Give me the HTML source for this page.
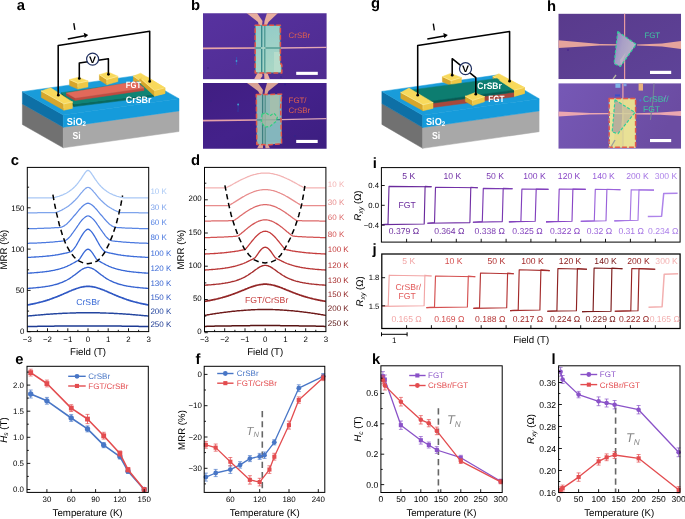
<!DOCTYPE html>
<html><head><meta charset="utf-8"><title>Figure</title>
<style>html,body{margin:0;padding:0;background:#fff}svg{display:block;will-change:transform}text{font-family:"Liberation Sans", sans-serif;text-rendering:geometricPrecision}</style>
</head><body>
<svg width="685" height="519" viewBox="0 0 685 519">
<rect width="685" height="519" fill="#fff"/>
<text x="16.7" y="9.8" font-size="14.80" fill="#000" text-anchor="start" font-weight="bold" font-style="normal" >a</text>
<polygon points="22.4,103.9 63.3,127.2 63.3,147.8 22.4,124.5" fill="#717171" stroke="#717171" stroke-width="0.5" stroke-linejoin="round"/>
<polygon points="63.3,127.2 179.0,110.9 179.0,131.5 63.3,147.8" fill="#a8a8a8" stroke="#a8a8a8" stroke-width="0.5" stroke-linejoin="round"/>
<polygon points="22.4,91.7 63.3,115.0 63.3,127.2 22.4,103.9" fill="#0e70a6" stroke="#0e70a6" stroke-width="0.5" stroke-linejoin="round"/>
<polygon points="63.3,115.0 179.0,98.7 179.0,110.9 63.3,127.2" fill="#159bdb" stroke="#159bdb" stroke-width="0.5" stroke-linejoin="round"/>
<polygon points="22.4,91.7 138.1,75.4 179.0,98.7 63.3,115.0" fill="#199cda" stroke="#199cda" stroke-width="0.5" stroke-linejoin="round"/>
<polygon points="133.4,76.1 154.4,90.5 154.4,96.1 133.4,81.7" fill="#d6a62c" stroke="#d6a62c" stroke-width="0.5" stroke-linejoin="round"/>
<polygon points="154.4,90.5 164.9,87.8 164.9,93.4 154.4,96.1" fill="#efc846" stroke="#efc846" stroke-width="0.5" stroke-linejoin="round"/>
<polygon points="133.4,76.1 140.6,73.2 164.9,87.8 154.4,90.5" fill="#f8d95c" stroke="#f8d95c" stroke-width="0.5" stroke-linejoin="round"/>
<path d="M133.4 76.1 L154.4 90.5 L164.9 87.8" fill="none" stroke="#fdeb96" stroke-width="0.80" stroke-linejoin="round" stroke-linecap="round" opacity="0.9"/>
<line x1="154.4" y1="90.5" x2="154.4" y2="94.4" stroke="#fdeb96" stroke-width="0.60" opacity="0.7"/>
<polygon points="69.5,79.6 77.8,83.2 77.8,89.1 69.5,85.5" fill="#d6a62c" stroke="#d6a62c" stroke-width="0.5" stroke-linejoin="round"/>
<polygon points="77.8,83.2 88.0,81.0 88.0,86.9 77.8,89.1" fill="#efc846" stroke="#efc846" stroke-width="0.5" stroke-linejoin="round"/>
<polygon points="69.5,79.6 78.5,77.2 88.0,81.0 77.8,83.2" fill="#f8d95c" stroke="#f8d95c" stroke-width="0.5" stroke-linejoin="round"/>
<path d="M69.5 79.6 L77.8 83.2 L88.0 81.0" fill="none" stroke="#fdeb96" stroke-width="0.80" stroke-linejoin="round" stroke-linecap="round" opacity="0.9"/>
<line x1="77.8" y1="83.2" x2="77.8" y2="87.3" stroke="#fdeb96" stroke-width="0.60" opacity="0.7"/>
<polygon points="99.4,74.7 106.8,79.4 106.8,84.7 99.4,80.0" fill="#d6a62c" stroke="#d6a62c" stroke-width="0.5" stroke-linejoin="round"/>
<polygon points="106.8,79.4 117.9,76.3 117.9,81.6 106.8,84.7" fill="#efc846" stroke="#efc846" stroke-width="0.5" stroke-linejoin="round"/>
<polygon points="99.4,74.7 108.2,72.0 117.9,76.3 106.8,79.4" fill="#f8d95c" stroke="#f8d95c" stroke-width="0.5" stroke-linejoin="round"/>
<path d="M99.4 74.7 L106.8 79.4 L117.9 76.3" fill="none" stroke="#fdeb96" stroke-width="0.80" stroke-linejoin="round" stroke-linecap="round" opacity="0.9"/>
<line x1="106.8" y1="79.4" x2="106.8" y2="83.1" stroke="#fdeb96" stroke-width="0.60" opacity="0.7"/>
<polygon points="61.5,92.7 74.0,103.9 74.0,106.6 61.5,95.2" fill="#0a5a50" stroke="#0a5a50" stroke-width="0.5" stroke-linejoin="round"/>
<polygon points="74.0,103.9 154.0,94.2 154.0,96.6 74.0,106.6" fill="#0b695e" stroke="#0b695e" stroke-width="0.5" stroke-linejoin="round"/>
<polygon points="61.5,92.7 139.0,81.6 154.0,94.2 74.0,103.9" fill="#108474" stroke="#108474" stroke-width="0.5" stroke-linejoin="round"/>
<polygon points="66.4,93.0 75.1,97.9 75.1,100.5 66.4,95.6" fill="#b4443a" stroke="#b4443a" stroke-width="0.5" stroke-linejoin="round"/>
<polygon points="75.1,97.9 144.0,88.0 144.0,90.4 75.1,100.5" fill="#c14b40" stroke="#c14b40" stroke-width="0.5" stroke-linejoin="round"/>
<polygon points="66.4,93.0 136.0,81.6 144.0,88.0 75.1,97.9" fill="#e1695a" stroke="#e1695a" stroke-width="0.5" stroke-linejoin="round"/>
<polygon points="139.4,79.4 141.6,78.2 154.4,90.5 154.4,96.0 139.4,82.2" fill="#d6a62c" stroke="#d6a62c" stroke-width="0.5" stroke-linejoin="round"/>
<polygon points="140.4,78.8 147.0,77.0 164.9,87.8 154.4,90.5" fill="#f8d95c" stroke="#f8d95c" stroke-width="0.5" stroke-linejoin="round"/>
<polygon points="154.4,90.5 164.9,87.8 164.9,93.5 154.4,96.0" fill="#efc846" stroke="#efc846" stroke-width="0.5" stroke-linejoin="round"/>
<path d="M142.0 79.6 L154.4 90.5 L164.9 87.8" fill="none" stroke="#fdeb96" stroke-width="0.80" stroke-linejoin="round" opacity="0.9"/>
<polygon points="41.3,91.0 63.8,103.8 63.8,110.2 41.3,97.4" fill="#d6a62c" stroke="#d6a62c" stroke-width="0.5" stroke-linejoin="round"/>
<polygon points="63.8,103.8 72.4,102.0 72.4,108.4 63.8,110.2" fill="#efc846" stroke="#efc846" stroke-width="0.5" stroke-linejoin="round"/>
<polygon points="41.3,91.0 50.7,87.8 72.4,102.0 63.8,103.8" fill="#f8d95c" stroke="#f8d95c" stroke-width="0.5" stroke-linejoin="round"/>
<path d="M41.3 91.0 L63.8 103.8 L72.4 102.0" fill="none" stroke="#fdeb96" stroke-width="0.80" stroke-linejoin="round" stroke-linecap="round" opacity="0.9"/>
<line x1="63.8" y1="103.8" x2="63.8" y2="108.3" stroke="#fdeb96" stroke-width="0.60" opacity="0.7"/>
<path d="M58.2 95.0 L58.2 45.6 L149.7 31.2 L149.7 81.4" fill="none" stroke="#000" stroke-width="1.55" stroke-linejoin="round" stroke-linejoin="miter"/>
<circle cx="58.3" cy="95.2" r="1.35"/><circle cx="149.7" cy="81.4" r="1.35"/>
<path d="M79.3 78.4 L79.3 63.0 L108.4 58.8 L108.4 74.2" fill="none" stroke="#000" stroke-width="1.55" stroke-linejoin="round" stroke-linejoin="miter"/>
<circle cx="79.3" cy="78.5" r="1.35"/><circle cx="108.4" cy="74.3" r="1.35"/>
<circle cx="92.6" cy="59.1" r="6.0" fill="#fff" stroke="#1f2f60" stroke-width="1.2"/>
<text x="89.1" y="62.5" font-size="9.40" fill="#000" text-anchor="start" font-weight="bold" font-style="normal" textLength="7" lengthAdjust="spacingAndGlyphs">V</text>
<line x1="67.8" y1="38.9" x2="84.6" y2="35.8" stroke="#000" stroke-width="1.50" />
<polygon points="88.2,35.0 83.7,32.8 84.7,38.1" fill="#000" />
<text x="0.0" y="0.0" font-size="9.80" fill="#000" text-anchor="middle" font-weight="bold" font-style="normal" transform="translate(74.8,29.9) rotate(-9)">I</text>
<text x="125.8" y="88.2" font-size="9.20" fill="#fff" text-anchor="start" font-weight="bold" font-style="normal" textLength="15.4" lengthAdjust="spacingAndGlyphs">FGT</text>
<text x="125.8" y="102.8" font-size="9.40" fill="#fff" text-anchor="start" font-weight="bold" font-style="normal" textLength="25.6" lengthAdjust="spacingAndGlyphs">CrSBr</text>
<text x="66.8" y="125.0" font-size="10.20" fill="#fff" text-anchor="start" font-weight="bold" font-style="normal" textLength="19.2" lengthAdjust="spacingAndGlyphs">SiO<tspan font-size="6.8" dy="1.2">2</tspan></text>
<text x="72.6" y="139.4" font-size="10.20" fill="#fff" text-anchor="start" font-weight="bold" font-style="normal" textLength="8.2" lengthAdjust="spacingAndGlyphs">Si</text>
<text x="371.1" y="8.0" font-size="14.80" fill="#000" text-anchor="start" font-weight="bold" font-style="normal" >g</text>
<polygon points="381.9,103.6 422.7,127.5 422.7,148.3 381.9,124.4" fill="#717171" stroke="#717171" stroke-width="0.5" stroke-linejoin="round"/>
<polygon points="422.7,127.5 539.1,110.9 539.1,131.7 422.7,148.3" fill="#a8a8a8" stroke="#a8a8a8" stroke-width="0.5" stroke-linejoin="round"/>
<polygon points="381.9,91.4 422.7,115.3 422.7,127.5 381.9,103.6" fill="#0e70a6" stroke="#0e70a6" stroke-width="0.5" stroke-linejoin="round"/>
<polygon points="422.7,115.3 539.1,98.7 539.1,110.9 422.7,127.5" fill="#159bdb" stroke="#159bdb" stroke-width="0.5" stroke-linejoin="round"/>
<polygon points="381.9,91.4 498.3,74.8 539.1,98.7 422.7,115.3" fill="#199cda" stroke="#199cda" stroke-width="0.5" stroke-linejoin="round"/>
<polygon points="442.4,76.6 451.1,80.6 451.1,85.8 442.4,81.8" fill="#d6a62c" stroke="#d6a62c" stroke-width="0.5" stroke-linejoin="round"/>
<polygon points="451.1,80.6 461.4,77.5 461.4,82.7 451.1,85.8" fill="#efc846" stroke="#efc846" stroke-width="0.5" stroke-linejoin="round"/>
<polygon points="442.4,76.6 450.6,73.4 461.4,77.5 451.1,80.6" fill="#f8d95c" stroke="#f8d95c" stroke-width="0.5" stroke-linejoin="round"/>
<path d="M442.4 76.6 L451.1 80.6 L461.4 77.5" fill="none" stroke="#fdeb96" stroke-width="0.80" stroke-linejoin="round" stroke-linecap="round" opacity="0.9"/>
<line x1="451.1" y1="80.6" x2="451.1" y2="84.2" stroke="#fdeb96" stroke-width="0.60" opacity="0.7"/>
<polygon points="492.9,76.4 514.5,90.3 514.5,96.3 492.9,82.4" fill="#d6a62c" stroke="#d6a62c" stroke-width="0.5" stroke-linejoin="round"/>
<polygon points="514.5,90.3 524.4,87.5 524.4,93.5 514.5,96.3" fill="#efc846" stroke="#efc846" stroke-width="0.5" stroke-linejoin="round"/>
<polygon points="492.9,76.4 498.9,73.8 524.4,87.5 514.5,90.3" fill="#f8d95c" stroke="#f8d95c" stroke-width="0.5" stroke-linejoin="round"/>
<path d="M492.9 76.4 L514.5 90.3 L524.4 87.5" fill="none" stroke="#fdeb96" stroke-width="0.80" stroke-linejoin="round" stroke-linecap="round" opacity="0.9"/>
<line x1="514.5" y1="90.3" x2="514.5" y2="94.5" stroke="#fdeb96" stroke-width="0.60" opacity="0.7"/>
<polygon points="429.0,103.4 514.0,92.2 514.0,96.8 429.0,108.0" fill="#a8483c" stroke="#a8483c" stroke-width="0.5" stroke-linejoin="round"/>
<polygon points="408.0,90.4 497.0,78.4 514.0,90.2 429.5,101.6" fill="#0d7d70" stroke="#0d7d70" stroke-width="0.5" stroke-linejoin="round"/>
<polygon points="429.5,101.6 514.0,90.2 514.0,92.2 429.5,103.6" fill="#0a5c52" stroke="#0a5c52" stroke-width="0.5" stroke-linejoin="round"/>
<polygon points="499.5,80.5 505.6,78.0 524.4,87.5 514.2,90.1" fill="#f8d95c" stroke="#f8d95c" stroke-width="0.5" stroke-linejoin="round"/>
<polygon points="514.5,90.3 524.4,87.5 524.4,93.3 514.5,96.3" fill="#efc846" stroke="#efc846" stroke-width="0.5" stroke-linejoin="round"/>
<path d="M514.2 90.1 L524.4 87.5" fill="none" stroke="#fdeb96" stroke-width="0.80" stroke-linejoin="round" opacity="0.9"/>
<polygon points="400.8,92.4 423.0,104.7 423.0,110.7 400.8,98.4" fill="#d6a62c" stroke="#d6a62c" stroke-width="0.5" stroke-linejoin="round"/>
<polygon points="423.0,104.7 433.0,102.4 433.0,108.4 423.0,110.7" fill="#efc846" stroke="#efc846" stroke-width="0.5" stroke-linejoin="round"/>
<polygon points="400.8,92.4 409.0,88.1 433.0,102.4 423.0,104.7" fill="#f8d95c" stroke="#f8d95c" stroke-width="0.5" stroke-linejoin="round"/>
<path d="M400.8 92.4 L423.0 104.7 L433.0 102.4" fill="none" stroke="#fdeb96" stroke-width="0.80" stroke-linejoin="round" stroke-linecap="round" opacity="0.9"/>
<line x1="423.0" y1="104.7" x2="423.0" y2="108.9" stroke="#fdeb96" stroke-width="0.60" opacity="0.7"/>
<polygon points="465.4,96.2 472.6,100.3 472.6,105.5 465.4,101.4" fill="#d6a62c" stroke="#d6a62c" stroke-width="0.5" stroke-linejoin="round"/>
<polygon points="472.6,100.3 484.4,96.6 484.4,101.8 472.6,105.5" fill="#efc846" stroke="#efc846" stroke-width="0.5" stroke-linejoin="round"/>
<polygon points="465.4,96.2 474.6,92.8 484.4,96.6 472.6,100.3" fill="#f8d95c" stroke="#f8d95c" stroke-width="0.5" stroke-linejoin="round"/>
<path d="M465.4 96.2 L472.6 100.3 L484.4 96.6" fill="none" stroke="#fdeb96" stroke-width="0.80" stroke-linejoin="round" stroke-linecap="round" opacity="0.9"/>
<line x1="472.6" y1="100.3" x2="472.6" y2="103.9" stroke="#fdeb96" stroke-width="0.60" opacity="0.7"/>
<path d="M417.7 95.0 L417.7 45.5 L509.6 31.5 L509.6 81.0" fill="none" stroke="#000" stroke-width="1.55" stroke-linejoin="round" stroke-linejoin="miter"/>
<circle cx="417.7" cy="95.2" r="1.35"/><circle cx="509.6" cy="81.2" r="1.35"/>
<path d="M452.2 75.0 L452.2 58.7 L475.8 77.6 L475.8 94.0" fill="none" stroke="#000" stroke-width="1.55" stroke-linejoin="round" stroke-linejoin="miter"/>
<circle cx="452.2" cy="75.2" r="1.35"/><circle cx="475.8" cy="94.2" r="1.35"/>
<circle cx="465.5" cy="68.7" r="6.0" fill="#fff" stroke="#1f2f60" stroke-width="1.2"/>
<text x="462.0" y="72.1" font-size="9.40" fill="#000" text-anchor="start" font-weight="bold" font-style="normal" textLength="7" lengthAdjust="spacingAndGlyphs">V</text>
<line x1="427.3" y1="39.1" x2="444.2" y2="35.9" stroke="#000" stroke-width="1.50" />
<polygon points="447.8,35.1 443.3,32.9 444.3,38.2" fill="#000" />
<text x="0.0" y="0.0" font-size="9.80" fill="#000" text-anchor="middle" font-weight="bold" font-style="normal" transform="translate(434.3,30.3) rotate(-9)">I</text>
<text x="477.3" y="88.6" font-size="9.40" fill="#fff" text-anchor="start" font-weight="bold" font-style="normal" textLength="24.4" lengthAdjust="spacingAndGlyphs">CrSBr</text>
<text x="488.2" y="102.2" font-size="9.20" fill="#fff" text-anchor="start" font-weight="bold" font-style="normal" textLength="16.2" lengthAdjust="spacingAndGlyphs">FGT</text>
<text x="426.0" y="125.0" font-size="10.20" fill="#fff" text-anchor="start" font-weight="bold" font-style="normal" textLength="19.2" lengthAdjust="spacingAndGlyphs">SiO<tspan font-size="6.8" dy="1.2">2</tspan></text>
<text x="432.0" y="139.4" font-size="10.20" fill="#fff" text-anchor="start" font-weight="bold" font-style="normal" textLength="8.2" lengthAdjust="spacingAndGlyphs">Si</text>
<defs>
<filter id="bl1" x="-20%" y="-20%" width="140%" height="140%"><feGaussianBlur stdDeviation="0.45"/></filter>
<filter id="bl2" x="-20%" y="-20%" width="140%" height="140%"><feGaussianBlur stdDeviation="0.8"/></filter>
<linearGradient id="gb1" x1="0" y1="0" x2="1" y2="1"><stop offset="0" stop-color="#57329f"/><stop offset="1" stop-color="#4e2b90"/></linearGradient>
<linearGradient id="gb2" x1="0" y1="0" x2="1" y2="1"><stop offset="0" stop-color="#411e82"/><stop offset="0.5" stop-color="#43218a"/><stop offset="1" stop-color="#3c1e80"/></linearGradient>
<linearGradient id="gh1" x1="0" y1="0" x2="1" y2="1"><stop offset="0" stop-color="#593a8c"/><stop offset="1" stop-color="#5e4398"/></linearGradient>
<linearGradient id="gh2" x1="0" y1="0" x2="1" y2="0.3"><stop offset="0" stop-color="#7658b6"/><stop offset="1" stop-color="#6b4ca2"/></linearGradient>
<clipPath id="cb1"><rect x="203.0" y="13.3" width="123.6" height="65.9"/></clipPath>
<clipPath id="cb2"><rect x="203.0" y="83" width="123.6" height="65.7"/></clipPath>
<clipPath id="ch1"><rect x="558.3" y="13.6" width="122.8" height="65.6"/></clipPath>
<clipPath id="ch2"><rect x="558.3" y="83.2" width="122.8" height="65.6"/></clipPath>
</defs>
<text x="191.0" y="10.4" font-size="14.80" fill="#000" text-anchor="start" font-weight="bold" font-style="normal" >b</text>
<g clip-path="url(#cb1)">
<rect x="202.8" y="13.0" width="124.4" height="66.6" fill="url(#gb1)" stroke="none" stroke-width="1.00" />
<g filter="url(#bl1)">
<line x1="202.8" y1="48.4" x2="256.0" y2="48.0" stroke="#e8a6a6" stroke-width="1.60" />
<line x1="280.0" y1="48.0" x2="326.8" y2="47.4" stroke="#e4a8b4" stroke-width="1.40" />
<polygon points="246.5,13.0 257.0,13.0 262.5,21.0 262.0,26.0 259.0,26.0 258.0,22.0" fill="#e7ad9e" />
<polygon points="267.0,13.0 278.0,13.0 268.5,22.0 266.5,26.0 264.0,26.0 264.5,21.0" fill="#e7ad9e" />
<polygon points="258.0,72.0 262.0,72.0 262.5,76.0 260.0,79.5 254.0,79.5" fill="#e7ad9e" />
<polygon points="264.0,72.0 267.0,72.0 270.0,79.5 264.5,79.5" fill="#e7ad9e" />
<linearGradient id="gfk" x1="0" y1="0" x2="0.2" y2="1"><stop offset="0" stop-color="#92cbc9"/><stop offset="1" stop-color="#a8d6c5"/></linearGradient>
<polygon points="255.3,25.4 280.2,25.4 280.2,63.0 281.6,65.0 281.6,72.8 255.3,72.8" fill="url(#gfk)" stroke="#3d8c92" stroke-width="0.7"/>
<rect x="274.0" y="52.0" width="6.0" height="20.0" fill="#b6dccb" stroke="none" stroke-width="1.00" />
<line x1="261.7" y1="25.6" x2="261.7" y2="72.6" stroke="#3b8a8c" stroke-width="1.40" />
<line x1="264.8" y1="25.6" x2="264.8" y2="72.6" stroke="#46948e" stroke-width="1.20" />
<line x1="256.0" y1="48.0" x2="280.5" y2="48.0" stroke="#3f8f86" stroke-width="1.20" />
<line x1="261.0" y1="48.0" x2="265.5" y2="48.0" stroke="#d8f0e0" stroke-width="1.20" />
<line x1="236.6" y1="57.0" x2="236.4" y2="65.0" stroke="#3b4db0" stroke-width="1.00" />
<circle cx="236.5" cy="61" r="0.9" fill="#3f9ed0"/>
<circle cx="208" cy="68" r="0.8" fill="#3a2080"/><circle cx="281" cy="77" r="0.9" fill="#3a2a90"/>
</g>
<path d="M255.2 25.2 L280.4 25.2 L280.4 63.0 L281.8 65.0 L281.8 73.0 L255.2 73.0 Z" fill="none" stroke="#e2594a" stroke-width="1.50" stroke-linejoin="round" stroke-dasharray="4.8 2.2"/>
<rect x="296.2" y="71.8" width="21.6" height="3.1" fill="#fff" stroke="none" stroke-width="1.00" />
<text x="288.6" y="37.9" font-size="7.90" fill="#e0604f" text-anchor="start" font-weight="normal" font-style="normal" >CrSBr</text>
</g>
<g clip-path="url(#cb2)">
<rect x="202.8" y="82.8" width="124.4" height="66.4" fill="url(#gb2)" stroke="none" stroke-width="1.00" />
<g filter="url(#bl1)">
<line x1="202.8" y1="120.6" x2="257.0" y2="120.0" stroke="#e3a0a8" stroke-width="1.70" />
<line x1="281.0" y1="119.6" x2="326.8" y2="118.6" stroke="#dca6b8" stroke-width="1.30" />
<polygon points="247.0,83.0 258.0,83.0 263.0,90.0 262.4,94.5 260.0,94.5 258.0,91.0" fill="#d8a296" />
<polygon points="267.0,83.0 278.5,83.0 268.5,91.0 267.0,94.5 264.5,94.5 265.0,90.0" fill="#d8a296" />
<polygon points="259.5,144.0 263.0,144.0 263.0,148.4 257.0,148.4" fill="#d8a296" />
<polygon points="265.0,144.0 268.0,144.0 270.0,148.4 265.5,148.4" fill="#d8a296" />
<polygon points="256.3,94.6 281.6,94.2 281.6,143.6 270.0,144.6 256.8,144.2" fill="#8fb9b8" />
<rect x="270.0" y="95.0" width="9.0" height="24.0" fill="#a3bfae" stroke="none" stroke-width="1.00" />
<rect x="266.5" y="122.0" width="14.0" height="20.0" fill="#84b6bd" stroke="none" stroke-width="1.00" />
<line x1="262.6" y1="94.6" x2="262.6" y2="144.0" stroke="#3c7f80" stroke-width="1.30" />
<line x1="265.2" y1="94.6" x2="265.2" y2="144.0" stroke="#4b8c86" stroke-width="1.10" />
<line x1="257.0" y1="120.0" x2="281.5" y2="119.6" stroke="#3c7f80" stroke-width="1.20" />
<polygon points="262.0,114.0 266.0,112.6 270.0,115.4 274.0,113.4 277.0,117.0 276.0,121.0 270.0,126.4 265.0,127.0 261.0,122.0" fill="#a9bba6" opacity="0.75"/>
<line x1="238.2" y1="103.5" x2="238.0" y2="112.0" stroke="#3438a0" stroke-width="1.00" />
<circle cx="238.1" cy="104.5" r="0.9" fill="#40a0d0"/>
<circle cx="211" cy="101" r="0.8" fill="#352080"/><circle cx="251" cy="125" r="0.8" fill="#30208a"/><circle cx="295" cy="136" r="0.8" fill="#30208a"/><circle cx="285" cy="84.5" r="1" fill="#30208a"/>
</g>
<path d="M256.3 94.6 L281.8 94.2 L280.6 107.0 L281.6 143.8 L270.0 144.8 L256.8 144.4 Z" fill="none" stroke="#e2594a" stroke-width="1.50" stroke-linejoin="round" stroke-dasharray="4.8 2.2"/>
<path d="M262.0 114.4 L265.6 112.6 L270.0 115.8 L274.0 113.2 L277.4 117.0 L276.0 121.4 L270.0 126.4 L265.0 127.2 L261.2 122.0 Z" fill="none" stroke="#2fd07f" stroke-width="1.20" stroke-linejoin="round" stroke-dasharray="3 1.8"/>
<rect x="296.2" y="139.9" width="21.5" height="3.1" fill="#fff" stroke="none" stroke-width="1.00" />
<text x="288.6" y="103.2" font-size="7.90" fill="#e0604f" text-anchor="start" font-weight="normal" font-style="normal" >FGT/</text>
<text x="288.6" y="113.2" font-size="7.90" fill="#e0604f" text-anchor="start" font-weight="normal" font-style="normal" >CrSBr</text>
</g>
<text x="546.9" y="10.6" font-size="14.80" fill="#000" text-anchor="start" font-weight="bold" font-style="normal" >h</text>
<g clip-path="url(#ch1)">
<rect x="558.3" y="13.6" width="122.8" height="65.6" fill="url(#gh1)" stroke="none" stroke-width="1.00" />
<g filter="url(#bl1)">
<polygon points="558.3,40.2 600.0,44.0 618.0,44.2 618.0,45.4 600.0,45.6 558.3,48.0" fill="#e5a39c" />
<polygon points="681.1,41.0 662.0,43.4 637.0,44.4 637.0,45.6 662.0,46.4 681.1,49.0" fill="#e5a39c" />
<line x1="624.6" y1="13.6" x2="624.6" y2="79.2" stroke="#e79aa0" stroke-width="1.20" />
<linearGradient id="gfl" x1="0" y1="0" x2="1" y2="0.4"><stop offset="0" stop-color="#8b7ec6"/><stop offset="0.45" stop-color="#a9a0c6"/><stop offset="1" stop-color="#b9b2c8"/></linearGradient>
<polygon points="617.8,31.5 636.2,44.3 620.5,66.4 614.1,63.7" fill="url(#gfl)" />
<polygon points="620.0,60.0 626.0,52.0 621.0,66.0" fill="#c2bcc6" opacity="0.7"/>
<line x1="616.0" y1="75.0" x2="613.0" y2="79.2" stroke="#b9b8a0" stroke-width="1.30" />
<circle cx="568" cy="50" r="1" fill="#4a2a8c"/>
</g>
<path d="M617.8 31.5 L636.2 44.3 L620.5 66.4 L614.1 63.7 Z" fill="none" stroke="#2fcf98" stroke-width="1.20" stroke-linejoin="round" stroke-dasharray="3 1.8"/>
<rect x="650.0" y="70.8" width="21.2" height="3.2" fill="#fff" stroke="none" stroke-width="1.00" />
<text x="644.4" y="37.9" font-size="7.90" fill="#3ec6a2" text-anchor="start" font-weight="normal" font-style="normal" >FGT</text>
</g>
<g clip-path="url(#ch2)">
<rect x="558.3" y="83.2" width="122.8" height="65.6" fill="url(#gh2)" stroke="none" stroke-width="1.00" />
<g filter="url(#bl1)">
<polygon points="558.3,111.4 590.0,113.0 609.0,113.0 609.0,114.2 590.0,114.4 558.3,116.4" fill="#eba7b0" />
<polygon points="681.1,111.0 660.0,112.6 636.0,113.2 636.0,114.4 660.0,114.8 681.1,116.0" fill="#eba7b0" />
<line x1="622.9" y1="83.2" x2="622.9" y2="98.4" stroke="#eaa0a8" stroke-width="1.30" />
<rect x="615.4" y="83.2" width="5.0" height="4.6" fill="#7fb4e6" stroke="none" stroke-width="1.00" />
<rect x="623.5" y="83.2" width="3.0" height="3.0" fill="#7f9fe0" stroke="none" stroke-width="1.00" />
<rect x="638.6" y="83.2" width="4.4" height="7.4" fill="#e7b27e" stroke="none" stroke-width="1.00" />
<path d="M654.0 83.2 L653.0 100.0 L650.4 120.0" fill="none" stroke="#7d7f98" stroke-width="1.10" stroke-linejoin="round" />
<path d="M666.0 95.0 L664.0 101.0" fill="none" stroke="#8d6fc8" stroke-width="1.00" stroke-linejoin="round" />
<circle cx="640.3" cy="100.4" r="1.1" fill="#4a6ad8"/>
<rect x="615.0" y="94.4" width="5.0" height="2.0" fill="#3a50c8" stroke="none" stroke-width="1.00" />
<rect x="609.2" y="98.4" width="26.4" height="49.3" fill="#e6dc90" stroke="none" stroke-width="1.00" />
<rect x="609.2" y="98.4" width="5.0" height="49.3" fill="#e9e29a" stroke="none" stroke-width="1.00" />
<rect x="624.0" y="120.0" width="11.6" height="27.6" fill="#e9e196" stroke="none" stroke-width="1.00" />
<polygon points="615.0,99.8 635.0,112.4 618.0,133.6 612.2,132.0" fill="#c9c09a" />
<polygon points="615.0,99.8 624.0,105.4 620.0,132.0 612.2,132.0" fill="#b9b09c" />
<line x1="622.9" y1="98.4" x2="622.9" y2="147.4" stroke="#d9cf9c" stroke-width="1.10" />
<line x1="609.2" y1="113.6" x2="635.6" y2="113.6" stroke="#d6cda0" stroke-width="1.10" />
<path d="M615.0 140.0 L611.0 147.0" fill="none" stroke="#9b9f9a" stroke-width="1.40" stroke-linejoin="round" />
</g>
<rect x="609.2" y="98.4" width="26.4" height="48.9" fill="none" stroke="#e2594a" stroke-width="1.50" stroke-dasharray="4.8 2.2"/>
<line x1="609.2" y1="98.4" x2="609.2" y2="148.8" stroke="#7ab0e0" stroke-width="0.80" stroke-dasharray="2 3.6" stroke-dashoffset="-3.6"/>
<path d="M615.0 99.8 L635.0 112.4 L618.0 133.6 L612.2 132.0 Z" fill="none" stroke="#2fcf98" stroke-width="1.20" stroke-linejoin="round" stroke-dasharray="3 1.8"/>
<rect x="650.0" y="139.0" width="21.2" height="3.1" fill="#fff" stroke="none" stroke-width="1.00" />
<text x="643.0" y="101.9" font-size="8.50" fill="#3ec6a2" text-anchor="start" font-weight="normal" font-style="normal" >CrSBr/</text>
<text x="643.0" y="111.5" font-size="8.50" fill="#3ec6a2" text-anchor="start" font-weight="normal" font-style="normal" >FGT</text>
</g>
<text x="10.8" y="165.0" font-size="14.80" fill="#000" text-anchor="start" font-weight="bold" font-style="normal" >c</text>
<clipPath id="cc"><rect x="27.3" y="167.4" width="121.4" height="164.2"/></clipPath>
<g clip-path="url(#cc)">
<path d="M27.3 197.8 L28.1 197.8 L28.9 197.8 L29.7 197.8 L30.5 197.8 L31.4 197.8 L32.2 197.8 L33.0 197.8 L33.8 197.8 L34.6 197.8 L35.4 197.8 L36.2 197.8 L37.0 197.8 L37.8 197.8 L38.6 197.8 L39.4 197.8 L40.3 197.8 L41.1 197.8 L41.9 197.8 L42.7 197.8 L43.5 197.8 L44.3 197.8 L45.1 197.8 L45.9 197.8 L46.7 197.8 L47.5 197.8 L48.3 197.8 L49.2 197.8 L50.0 197.8 L50.8 197.8 L51.6 197.8 L52.4 197.8 L53.2 197.7 L54.0 197.5 L54.8 197.4 L55.6 197.2 L56.4 197.0 L57.3 196.7 L58.1 196.5 L58.9 196.3 L59.7 196.0 L60.5 195.7 L61.3 195.4 L62.1 195.1 L62.9 194.8 L63.7 194.4 L64.5 194.0 L65.3 193.6 L66.2 193.2 L67.0 192.8 L67.8 192.3 L68.6 191.8 L69.4 191.2 L70.2 190.6 L71.0 190.0 L71.8 189.4 L72.6 188.7 L73.4 188.0 L74.2 187.2 L75.1 186.4 L75.9 185.5 L76.7 184.6 L77.5 183.6 L78.3 182.6 L79.1 181.5 L79.9 180.4 L80.7 179.3 L81.5 178.1 L82.3 176.8 L83.1 175.6 L84.0 174.4 L84.8 173.2 L85.6 172.1 L86.4 171.2 L87.2 170.6 L88.0 170.4 L88.8 170.6 L89.6 171.2 L90.4 172.1 L91.2 173.2 L92.0 174.4 L92.9 175.6 L93.7 176.8 L94.5 178.1 L95.3 179.3 L96.1 180.4 L96.9 181.5 L97.7 182.6 L98.5 183.6 L99.3 184.6 L100.1 185.5 L100.9 186.4 L101.8 187.2 L102.6 188.0 L103.4 188.7 L104.2 189.4 L105.0 190.0 L105.8 190.6 L106.6 191.2 L107.4 191.8 L108.2 192.3 L109.0 192.8 L109.8 193.2 L110.7 193.6 L111.5 194.0 L112.3 194.4 L113.1 194.8 L113.9 195.1 L114.7 195.4 L115.5 195.7 L116.3 196.0 L117.1 196.3 L117.9 196.5 L118.7 196.7 L119.6 197.0 L120.4 197.2 L121.2 197.4 L122.0 197.5 L122.8 197.7 L123.6 197.8 L124.4 197.8 L125.2 197.8 L126.0 197.8 L126.8 197.8 L127.7 197.8 L128.5 197.8 L129.3 197.8 L130.1 197.8 L130.9 197.8 L131.7 197.8 L132.5 197.8 L133.3 197.8 L134.1 197.8 L134.9 197.8 L135.7 197.8 L136.6 197.8 L137.4 197.8 L138.2 197.8 L139.0 197.8 L139.8 197.8 L140.6 197.8 L141.4 197.8 L142.2 197.8 L143.0 197.8 L143.8 197.8 L144.6 197.8 L145.5 197.8 L146.3 197.8 L147.1 197.8 L147.9 197.8 L148.7 197.8" fill="none" stroke="#a9c8f5" stroke-width="1.25" stroke-linejoin="round" />
<path d="M27.3 212.8 L28.1 212.8 L28.9 212.8 L29.7 212.8 L30.5 212.8 L31.4 212.8 L32.2 212.8 L33.0 212.8 L33.8 212.8 L34.6 212.8 L35.4 212.8 L36.2 212.8 L37.0 212.8 L37.8 212.7 L38.6 212.7 L39.4 212.7 L40.3 212.7 L41.1 212.7 L41.9 212.7 L42.7 212.7 L43.5 212.7 L44.3 212.7 L45.1 212.7 L45.9 212.7 L46.7 212.7 L47.5 212.7 L48.3 212.7 L49.2 212.7 L50.0 212.7 L50.8 212.7 L51.6 212.6 L52.4 212.6 L53.2 212.6 L54.0 212.6 L54.8 212.6 L55.6 212.6 L56.4 212.3 L57.3 212.0 L58.1 211.7 L58.9 211.4 L59.7 211.0 L60.5 210.6 L61.3 210.3 L62.1 209.9 L62.9 209.4 L63.7 209.0 L64.5 208.5 L65.3 208.0 L66.2 207.5 L67.0 207.0 L67.8 206.5 L68.6 205.9 L69.4 205.3 L70.2 204.6 L71.0 204.0 L71.8 203.3 L72.6 202.5 L73.4 201.8 L74.2 201.0 L75.1 200.2 L75.9 199.3 L76.7 198.5 L77.5 197.6 L78.3 196.6 L79.1 195.7 L79.9 194.7 L80.7 193.7 L81.5 192.7 L82.3 191.8 L83.1 190.8 L84.0 189.9 L84.8 189.1 L85.6 188.4 L86.4 187.9 L87.2 187.5 L88.0 187.4 L88.8 187.5 L89.6 187.9 L90.4 188.4 L91.2 189.1 L92.0 189.9 L92.9 190.8 L93.7 191.8 L94.5 192.7 L95.3 193.7 L96.1 194.7 L96.9 195.7 L97.7 196.6 L98.5 197.6 L99.3 198.5 L100.1 199.3 L100.9 200.2 L101.8 201.0 L102.6 201.8 L103.4 202.5 L104.2 203.3 L105.0 204.0 L105.8 204.6 L106.6 205.3 L107.4 205.9 L108.2 206.5 L109.0 207.0 L109.8 207.5 L110.7 208.0 L111.5 208.5 L112.3 209.0 L113.1 209.4 L113.9 209.9 L114.7 210.3 L115.5 210.6 L116.3 211.0 L117.1 211.4 L117.9 211.7 L118.7 212.0 L119.6 212.3 L120.4 212.6 L121.2 212.6 L122.0 212.6 L122.8 212.6 L123.6 212.6 L124.4 212.6 L125.2 212.7 L126.0 212.7 L126.8 212.7 L127.7 212.7 L128.5 212.7 L129.3 212.7 L130.1 212.7 L130.9 212.7 L131.7 212.7 L132.5 212.7 L133.3 212.7 L134.1 212.7 L134.9 212.7 L135.7 212.7 L136.6 212.7 L137.4 212.7 L138.2 212.7 L139.0 212.8 L139.8 212.8 L140.6 212.8 L141.4 212.8 L142.2 212.8 L143.0 212.8 L143.8 212.8 L144.6 212.8 L145.5 212.8 L146.3 212.8 L147.1 212.8 L147.9 212.8 L148.7 212.8" fill="none" stroke="#7ea4ec" stroke-width="1.25" stroke-linejoin="round" />
<path d="M27.3 228.7 L28.1 228.7 L28.9 228.7 L29.7 228.6 L30.5 228.6 L31.4 228.6 L32.2 228.6 L33.0 228.6 L33.8 228.6 L34.6 228.5 L35.4 228.5 L36.2 228.5 L37.0 228.5 L37.8 228.4 L38.6 228.4 L39.4 228.4 L40.3 228.4 L41.1 228.3 L41.9 228.3 L42.7 228.3 L43.5 228.3 L44.3 228.2 L45.1 228.2 L45.9 228.2 L46.7 228.1 L47.5 228.1 L48.3 228.1 L49.2 228.0 L50.0 228.0 L50.8 228.0 L51.6 227.9 L52.4 227.9 L53.2 227.8 L54.0 227.8 L54.8 227.7 L55.6 227.7 L56.4 227.6 L57.3 227.6 L58.1 227.5 L58.9 227.5 L59.7 227.4 L60.5 227.3 L61.3 227.2 L62.1 226.9 L62.9 226.5 L63.7 226.1 L64.5 225.6 L65.3 225.0 L66.2 224.4 L67.0 223.7 L67.8 222.9 L68.6 222.1 L69.4 221.3 L70.2 220.4 L71.0 219.5 L71.8 218.6 L72.6 217.7 L73.4 216.7 L74.2 215.7 L75.1 214.8 L75.9 213.8 L76.7 212.8 L77.5 211.8 L78.3 210.9 L79.1 209.9 L79.9 209.0 L80.7 208.2 L81.5 207.3 L82.3 206.5 L83.1 205.8 L84.0 205.1 L84.8 204.5 L85.6 204.0 L86.4 203.6 L87.2 203.3 L88.0 203.1 L88.8 203.3 L89.6 203.6 L90.4 204.0 L91.2 204.5 L92.0 205.1 L92.9 205.8 L93.7 206.5 L94.5 207.3 L95.3 208.2 L96.1 209.0 L96.9 209.9 L97.7 210.9 L98.5 211.8 L99.3 212.8 L100.1 213.8 L100.9 214.8 L101.8 215.7 L102.6 216.7 L103.4 217.7 L104.2 218.6 L105.0 219.5 L105.8 220.4 L106.6 221.3 L107.4 222.1 L108.2 222.9 L109.0 223.7 L109.8 224.4 L110.7 225.0 L111.5 225.6 L112.3 226.1 L113.1 226.5 L113.9 226.9 L114.7 227.2 L115.5 227.3 L116.3 227.4 L117.1 227.5 L117.9 227.5 L118.7 227.6 L119.6 227.6 L120.4 227.7 L121.2 227.7 L122.0 227.8 L122.8 227.8 L123.6 227.9 L124.4 227.9 L125.2 228.0 L126.0 228.0 L126.8 228.0 L127.7 228.1 L128.5 228.1 L129.3 228.1 L130.1 228.2 L130.9 228.2 L131.7 228.2 L132.5 228.3 L133.3 228.3 L134.1 228.3 L134.9 228.3 L135.7 228.4 L136.6 228.4 L137.4 228.4 L138.2 228.4 L139.0 228.5 L139.8 228.5 L140.6 228.5 L141.4 228.5 L142.2 228.6 L143.0 228.6 L143.8 228.6 L144.6 228.6 L145.5 228.6 L146.3 228.6 L147.1 228.7 L147.9 228.7 L148.7 228.7" fill="none" stroke="#5a86e4" stroke-width="1.25" stroke-linejoin="round" />
<path d="M27.3 243.3 L28.1 243.3 L28.9 243.3 L29.7 243.2 L30.5 243.2 L31.4 243.2 L32.2 243.1 L33.0 243.1 L33.8 243.1 L34.6 243.1 L35.4 243.0 L36.2 243.0 L37.0 243.0 L37.8 242.9 L38.6 242.9 L39.4 242.8 L40.3 242.8 L41.1 242.8 L41.9 242.7 L42.7 242.7 L43.5 242.6 L44.3 242.6 L45.1 242.5 L45.9 242.5 L46.7 242.4 L47.5 242.4 L48.3 242.3 L49.2 242.3 L50.0 242.2 L50.8 242.2 L51.6 242.1 L52.4 242.0 L53.2 242.0 L54.0 241.9 L54.8 241.8 L55.6 241.7 L56.4 241.7 L57.3 241.6 L58.1 241.5 L58.9 241.4 L59.7 241.3 L60.5 241.3 L61.3 241.2 L62.1 241.1 L62.9 241.0 L63.7 240.9 L64.5 240.7 L65.3 240.4 L66.2 240.0 L67.0 239.4 L67.8 238.8 L68.6 238.0 L69.4 237.2 L70.2 236.3 L71.0 235.3 L71.8 234.2 L72.6 233.2 L73.4 232.0 L74.2 230.9 L75.1 229.7 L75.9 228.5 L76.7 227.3 L77.5 226.1 L78.3 225.0 L79.1 223.8 L79.9 222.7 L80.7 221.7 L81.5 220.7 L82.3 219.7 L83.1 218.9 L84.0 218.1 L84.8 217.4 L85.6 216.8 L86.4 216.4 L87.2 216.0 L88.0 215.9 L88.8 216.0 L89.6 216.4 L90.4 216.8 L91.2 217.4 L92.0 218.1 L92.9 218.9 L93.7 219.7 L94.5 220.7 L95.3 221.7 L96.1 222.7 L96.9 223.8 L97.7 225.0 L98.5 226.1 L99.3 227.3 L100.1 228.5 L100.9 229.7 L101.8 230.9 L102.6 232.0 L103.4 233.2 L104.2 234.2 L105.0 235.3 L105.8 236.3 L106.6 237.2 L107.4 238.0 L108.2 238.8 L109.0 239.4 L109.8 240.0 L110.7 240.4 L111.5 240.7 L112.3 240.9 L113.1 241.0 L113.9 241.1 L114.7 241.2 L115.5 241.3 L116.3 241.3 L117.1 241.4 L117.9 241.5 L118.7 241.6 L119.6 241.7 L120.4 241.7 L121.2 241.8 L122.0 241.9 L122.8 242.0 L123.6 242.0 L124.4 242.1 L125.2 242.2 L126.0 242.2 L126.8 242.3 L127.7 242.3 L128.5 242.4 L129.3 242.4 L130.1 242.5 L130.9 242.5 L131.7 242.6 L132.5 242.6 L133.3 242.7 L134.1 242.7 L134.9 242.8 L135.7 242.8 L136.6 242.8 L137.4 242.9 L138.2 242.9 L139.0 243.0 L139.8 243.0 L140.6 243.0 L141.4 243.1 L142.2 243.1 L143.0 243.1 L143.8 243.1 L144.6 243.2 L145.5 243.2 L146.3 243.2 L147.1 243.3 L147.9 243.3 L148.7 243.3" fill="none" stroke="#4a78df" stroke-width="1.25" stroke-linejoin="round" />
<path d="M27.3 257.4 L28.1 257.4 L28.9 257.3 L29.7 257.3 L30.5 257.3 L31.4 257.2 L32.2 257.2 L33.0 257.1 L33.8 257.1 L34.6 257.0 L35.4 257.0 L36.2 256.9 L37.0 256.9 L37.8 256.8 L38.6 256.8 L39.4 256.7 L40.3 256.7 L41.1 256.6 L41.9 256.6 L42.7 256.5 L43.5 256.4 L44.3 256.4 L45.1 256.3 L45.9 256.2 L46.7 256.1 L47.5 256.0 L48.3 256.0 L49.2 255.9 L50.0 255.8 L50.8 255.7 L51.6 255.6 L52.4 255.5 L53.2 255.4 L54.0 255.3 L54.8 255.2 L55.6 255.0 L56.4 254.9 L57.3 254.8 L58.1 254.6 L58.9 254.5 L59.7 254.4 L60.5 254.2 L61.3 254.0 L62.1 253.9 L62.9 253.7 L63.7 253.5 L64.5 253.4 L65.3 253.2 L66.2 253.0 L67.0 252.8 L67.8 252.6 L68.6 252.4 L69.4 252.2 L70.2 251.9 L71.0 251.6 L71.8 251.1 L72.6 250.3 L73.4 249.4 L74.2 248.4 L75.1 247.2 L75.9 246.0 L76.7 244.6 L77.5 243.2 L78.3 241.8 L79.1 240.4 L79.9 238.9 L80.7 237.5 L81.5 236.1 L82.3 234.8 L83.1 233.6 L84.0 232.4 L84.8 231.4 L85.6 230.6 L86.4 229.9 L87.2 229.4 L88.0 229.2 L88.8 229.4 L89.6 229.9 L90.4 230.6 L91.2 231.4 L92.0 232.4 L92.9 233.6 L93.7 234.8 L94.5 236.1 L95.3 237.5 L96.1 238.9 L96.9 240.4 L97.7 241.8 L98.5 243.2 L99.3 244.6 L100.1 246.0 L100.9 247.2 L101.8 248.4 L102.6 249.4 L103.4 250.3 L104.2 251.1 L105.0 251.6 L105.8 251.9 L106.6 252.2 L107.4 252.4 L108.2 252.6 L109.0 252.8 L109.8 253.0 L110.7 253.2 L111.5 253.4 L112.3 253.5 L113.1 253.7 L113.9 253.9 L114.7 254.0 L115.5 254.2 L116.3 254.4 L117.1 254.5 L117.9 254.6 L118.7 254.8 L119.6 254.9 L120.4 255.0 L121.2 255.2 L122.0 255.3 L122.8 255.4 L123.6 255.5 L124.4 255.6 L125.2 255.7 L126.0 255.8 L126.8 255.9 L127.7 256.0 L128.5 256.0 L129.3 256.1 L130.1 256.2 L130.9 256.3 L131.7 256.4 L132.5 256.4 L133.3 256.5 L134.1 256.6 L134.9 256.6 L135.7 256.7 L136.6 256.7 L137.4 256.8 L138.2 256.8 L139.0 256.9 L139.8 256.9 L140.6 257.0 L141.4 257.0 L142.2 257.1 L143.0 257.1 L143.8 257.2 L144.6 257.2 L145.5 257.3 L146.3 257.3 L147.1 257.3 L147.9 257.4 L148.7 257.4" fill="none" stroke="#3b6bd9" stroke-width="1.30" stroke-linejoin="round" />
<path d="M27.3 273.2 L28.1 273.2 L28.9 273.1 L29.7 273.1 L30.5 273.0 L31.4 273.0 L32.2 272.9 L33.0 272.9 L33.8 272.8 L34.6 272.7 L35.4 272.7 L36.2 272.6 L37.0 272.5 L37.8 272.5 L38.6 272.4 L39.4 272.3 L40.3 272.2 L41.1 272.2 L41.9 272.1 L42.7 272.0 L43.5 271.9 L44.3 271.8 L45.1 271.7 L45.9 271.6 L46.7 271.5 L47.5 271.4 L48.3 271.3 L49.2 271.1 L50.0 271.0 L50.8 270.9 L51.6 270.7 L52.4 270.6 L53.2 270.4 L54.0 270.3 L54.8 270.1 L55.6 269.9 L56.4 269.7 L57.3 269.5 L58.1 269.3 L58.9 269.1 L59.7 268.9 L60.5 268.6 L61.3 268.4 L62.1 268.1 L62.9 267.8 L63.7 267.6 L64.5 267.3 L65.3 266.9 L66.2 266.6 L67.0 266.3 L67.8 265.9 L68.6 265.5 L69.4 265.2 L70.2 264.8 L71.0 264.3 L71.8 263.9 L72.6 263.5 L73.4 263.0 L74.2 262.6 L75.1 262.1 L75.9 261.6 L76.7 261.2 L77.5 260.7 L78.3 260.2 L79.1 259.6 L79.9 258.6 L80.7 257.4 L81.5 256.1 L82.3 254.9 L83.1 253.6 L84.0 252.4 L84.8 251.4 L85.6 250.5 L86.4 249.8 L87.2 249.4 L88.0 249.2 L88.8 249.4 L89.6 249.8 L90.4 250.5 L91.2 251.4 L92.0 252.4 L92.9 253.6 L93.7 254.9 L94.5 256.1 L95.3 257.4 L96.1 258.6 L96.9 259.6 L97.7 260.2 L98.5 260.7 L99.3 261.2 L100.1 261.6 L100.9 262.1 L101.8 262.6 L102.6 263.0 L103.4 263.5 L104.2 263.9 L105.0 264.3 L105.8 264.8 L106.6 265.2 L107.4 265.5 L108.2 265.9 L109.0 266.3 L109.8 266.6 L110.7 266.9 L111.5 267.3 L112.3 267.6 L113.1 267.8 L113.9 268.1 L114.7 268.4 L115.5 268.6 L116.3 268.9 L117.1 269.1 L117.9 269.3 L118.7 269.5 L119.6 269.7 L120.4 269.9 L121.2 270.1 L122.0 270.3 L122.8 270.4 L123.6 270.6 L124.4 270.7 L125.2 270.9 L126.0 271.0 L126.8 271.1 L127.7 271.3 L128.5 271.4 L129.3 271.5 L130.1 271.6 L130.9 271.7 L131.7 271.8 L132.5 271.9 L133.3 272.0 L134.1 272.1 L134.9 272.2 L135.7 272.2 L136.6 272.3 L137.4 272.4 L138.2 272.5 L139.0 272.5 L139.8 272.6 L140.6 272.7 L141.4 272.7 L142.2 272.8 L143.0 272.9 L143.8 272.9 L144.6 273.0 L145.5 273.0 L146.3 273.1 L147.1 273.1 L147.9 273.2 L148.7 273.2" fill="none" stroke="#3767d6" stroke-width="1.30" stroke-linejoin="round" />
<path d="M27.3 288.4 L28.1 288.3 L28.9 288.3 L29.7 288.2 L30.5 288.2 L31.4 288.1 L32.2 288.1 L33.0 288.0 L33.8 287.9 L34.6 287.9 L35.4 287.8 L36.2 287.7 L37.0 287.6 L37.8 287.5 L38.6 287.5 L39.4 287.4 L40.3 287.3 L41.1 287.2 L41.9 287.1 L42.7 287.0 L43.5 286.9 L44.3 286.8 L45.1 286.6 L45.9 286.5 L46.7 286.4 L47.5 286.3 L48.3 286.1 L49.2 286.0 L50.0 285.8 L50.8 285.6 L51.6 285.5 L52.4 285.3 L53.2 285.1 L54.0 284.9 L54.8 284.7 L55.6 284.5 L56.4 284.3 L57.3 284.0 L58.1 283.8 L58.9 283.5 L59.7 283.2 L60.5 282.9 L61.3 282.6 L62.1 282.3 L62.9 282.0 L63.7 281.6 L64.5 281.2 L65.3 280.8 L66.2 280.4 L67.0 280.0 L67.8 279.5 L68.6 279.1 L69.4 278.6 L70.2 278.1 L71.0 277.5 L71.8 277.0 L72.6 276.4 L73.4 275.8 L74.2 275.2 L75.1 274.6 L75.9 274.0 L76.7 273.4 L77.5 272.7 L78.3 272.1 L79.1 271.5 L79.9 270.9 L80.7 270.3 L81.5 269.8 L82.3 269.2 L83.1 268.8 L84.0 268.4 L84.8 268.0 L85.6 267.8 L86.4 267.6 L87.2 267.4 L88.0 267.4 L88.8 267.4 L89.6 267.6 L90.4 267.8 L91.2 268.0 L92.0 268.4 L92.9 268.8 L93.7 269.2 L94.5 269.8 L95.3 270.3 L96.1 270.9 L96.9 271.5 L97.7 272.1 L98.5 272.7 L99.3 273.4 L100.1 274.0 L100.9 274.6 L101.8 275.2 L102.6 275.8 L103.4 276.4 L104.2 277.0 L105.0 277.5 L105.8 278.1 L106.6 278.6 L107.4 279.1 L108.2 279.5 L109.0 280.0 L109.8 280.4 L110.7 280.8 L111.5 281.2 L112.3 281.6 L113.1 282.0 L113.9 282.3 L114.7 282.6 L115.5 282.9 L116.3 283.2 L117.1 283.5 L117.9 283.8 L118.7 284.0 L119.6 284.3 L120.4 284.5 L121.2 284.7 L122.0 284.9 L122.8 285.1 L123.6 285.3 L124.4 285.5 L125.2 285.6 L126.0 285.8 L126.8 286.0 L127.7 286.1 L128.5 286.3 L129.3 286.4 L130.1 286.5 L130.9 286.6 L131.7 286.8 L132.5 286.9 L133.3 287.0 L134.1 287.1 L134.9 287.2 L135.7 287.3 L136.6 287.4 L137.4 287.5 L138.2 287.5 L139.0 287.6 L139.8 287.7 L140.6 287.8 L141.4 287.9 L142.2 287.9 L143.0 288.0 L143.8 288.1 L144.6 288.1 L145.5 288.2 L146.3 288.2 L147.1 288.3 L147.9 288.3 L148.7 288.4" fill="none" stroke="#3562d0" stroke-width="1.35" stroke-linejoin="round" />
<path d="M27.3 305.0 L28.1 304.9 L28.9 304.7 L29.7 304.6 L30.5 304.4 L31.4 304.2 L32.2 304.1 L33.0 303.9 L33.8 303.7 L34.6 303.6 L35.4 303.4 L36.2 303.2 L37.0 303.0 L37.8 302.8 L38.6 302.6 L39.4 302.4 L40.3 302.2 L41.1 302.0 L41.9 301.8 L42.7 301.6 L43.5 301.3 L44.3 301.1 L45.1 300.9 L45.9 300.6 L46.7 300.4 L47.5 300.1 L48.3 299.8 L49.2 299.6 L50.0 299.3 L50.8 299.0 L51.6 298.7 L52.4 298.4 L53.2 298.1 L54.0 297.8 L54.8 297.5 L55.6 297.2 L56.4 296.9 L57.3 296.6 L58.1 296.2 L58.9 295.9 L59.7 295.6 L60.5 295.2 L61.3 294.9 L62.1 294.5 L62.9 294.2 L63.7 293.8 L64.5 293.5 L65.3 293.1 L66.2 292.8 L67.0 292.4 L67.8 292.1 L68.6 291.7 L69.4 291.3 L70.2 291.0 L71.0 290.7 L71.8 290.3 L72.6 290.0 L73.4 289.7 L74.2 289.4 L75.1 289.1 L75.9 288.8 L76.7 288.5 L77.5 288.2 L78.3 288.0 L79.1 287.7 L79.9 287.5 L80.7 287.3 L81.5 287.1 L82.3 287.0 L83.1 286.8 L84.0 286.7 L84.8 286.6 L85.6 286.5 L86.4 286.4 L87.2 286.4 L88.0 286.4 L88.8 286.4 L89.6 286.4 L90.4 286.5 L91.2 286.6 L92.0 286.7 L92.9 286.8 L93.7 287.0 L94.5 287.1 L95.3 287.3 L96.1 287.5 L96.9 287.7 L97.7 288.0 L98.5 288.2 L99.3 288.5 L100.1 288.8 L100.9 289.1 L101.8 289.4 L102.6 289.7 L103.4 290.0 L104.2 290.3 L105.0 290.7 L105.8 291.0 L106.6 291.3 L107.4 291.7 L108.2 292.1 L109.0 292.4 L109.8 292.8 L110.7 293.1 L111.5 293.5 L112.3 293.8 L113.1 294.2 L113.9 294.5 L114.7 294.9 L115.5 295.2 L116.3 295.6 L117.1 295.9 L117.9 296.2 L118.7 296.6 L119.6 296.9 L120.4 297.2 L121.2 297.5 L122.0 297.8 L122.8 298.1 L123.6 298.4 L124.4 298.7 L125.2 299.0 L126.0 299.3 L126.8 299.6 L127.7 299.8 L128.5 300.1 L129.3 300.4 L130.1 300.6 L130.9 300.9 L131.7 301.1 L132.5 301.3 L133.3 301.6 L134.1 301.8 L134.9 302.0 L135.7 302.2 L136.6 302.4 L137.4 302.6 L138.2 302.8 L139.0 303.0 L139.8 303.2 L140.6 303.4 L141.4 303.6 L142.2 303.7 L143.0 303.9 L143.8 304.1 L144.6 304.2 L145.5 304.4 L146.3 304.6 L147.1 304.7 L147.9 304.9 L148.7 305.0" fill="none" stroke="#2f58c4" stroke-width="1.70" stroke-linejoin="round" />
<path d="M27.3 316.1 L28.1 316.0 L28.9 315.9 L29.7 315.8 L30.5 315.8 L31.4 315.7 L32.2 315.6 L33.0 315.5 L33.8 315.4 L34.6 315.4 L35.4 315.3 L36.2 315.2 L37.0 315.1 L37.8 315.1 L38.6 315.0 L39.4 314.9 L40.3 314.9 L41.1 314.8 L41.9 314.7 L42.7 314.7 L43.5 314.6 L44.3 314.5 L45.1 314.5 L45.9 314.4 L46.7 314.3 L47.5 314.3 L48.3 314.2 L49.2 314.2 L50.0 314.1 L50.8 314.0 L51.6 314.0 L52.4 313.9 L53.2 313.9 L54.0 313.8 L54.8 313.8 L55.6 313.7 L56.4 313.7 L57.3 313.6 L58.1 313.6 L58.9 313.5 L59.7 313.5 L60.5 313.5 L61.3 313.4 L62.1 313.4 L62.9 313.3 L63.7 313.3 L64.5 313.3 L65.3 313.2 L66.2 313.2 L67.0 313.2 L67.8 313.1 L68.6 313.1 L69.4 313.1 L70.2 313.0 L71.0 313.0 L71.8 313.0 L72.6 313.0 L73.4 312.9 L74.2 312.9 L75.1 312.9 L75.9 312.9 L76.7 312.8 L77.5 312.8 L78.3 312.8 L79.1 312.8 L79.9 312.8 L80.7 312.8 L81.5 312.7 L82.3 312.7 L83.1 312.7 L84.0 312.7 L84.8 312.7 L85.6 312.7 L86.4 312.7 L87.2 312.7 L88.0 312.7 L88.8 312.7 L89.6 312.7 L90.4 312.7 L91.2 312.7 L92.0 312.7 L92.9 312.7 L93.7 312.7 L94.5 312.7 L95.3 312.8 L96.1 312.8 L96.9 312.8 L97.7 312.8 L98.5 312.8 L99.3 312.8 L100.1 312.9 L100.9 312.9 L101.8 312.9 L102.6 312.9 L103.4 313.0 L104.2 313.0 L105.0 313.0 L105.8 313.0 L106.6 313.1 L107.4 313.1 L108.2 313.1 L109.0 313.2 L109.8 313.2 L110.7 313.2 L111.5 313.3 L112.3 313.3 L113.1 313.3 L113.9 313.4 L114.7 313.4 L115.5 313.5 L116.3 313.5 L117.1 313.5 L117.9 313.6 L118.7 313.6 L119.6 313.7 L120.4 313.7 L121.2 313.8 L122.0 313.8 L122.8 313.9 L123.6 313.9 L124.4 314.0 L125.2 314.0 L126.0 314.1 L126.8 314.2 L127.7 314.2 L128.5 314.3 L129.3 314.3 L130.1 314.4 L130.9 314.5 L131.7 314.5 L132.5 314.6 L133.3 314.7 L134.1 314.7 L134.9 314.8 L135.7 314.9 L136.6 314.9 L137.4 315.0 L138.2 315.1 L139.0 315.1 L139.8 315.2 L140.6 315.3 L141.4 315.4 L142.2 315.4 L143.0 315.5 L143.8 315.6 L144.6 315.7 L145.5 315.8 L146.3 315.8 L147.1 315.9 L147.9 316.0 L148.7 316.1" fill="none" stroke="#23459f" stroke-width="1.45" stroke-linejoin="round" />
<path d="M27.3 326.5 L28.1 326.5 L28.9 326.5 L29.7 326.5 L30.5 326.4 L31.4 326.4 L32.2 326.4 L33.0 326.4 L33.8 326.4 L34.6 326.4 L35.4 326.4 L36.2 326.4 L37.0 326.4 L37.8 326.3 L38.6 326.3 L39.4 326.3 L40.3 326.3 L41.1 326.3 L41.9 326.3 L42.7 326.3 L43.5 326.3 L44.3 326.3 L45.1 326.2 L45.9 326.2 L46.7 326.2 L47.5 326.2 L48.3 326.2 L49.2 326.2 L50.0 326.2 L50.8 326.2 L51.6 326.2 L52.4 326.2 L53.2 326.2 L54.0 326.2 L54.8 326.1 L55.6 326.1 L56.4 326.1 L57.3 326.1 L58.1 326.1 L58.9 326.1 L59.7 326.1 L60.5 326.1 L61.3 326.1 L62.1 326.1 L62.9 326.1 L63.7 326.1 L64.5 326.1 L65.3 326.1 L66.2 326.1 L67.0 326.1 L67.8 326.1 L68.6 326.1 L69.4 326.0 L70.2 326.0 L71.0 326.0 L71.8 326.0 L72.6 326.0 L73.4 326.0 L74.2 326.0 L75.1 326.0 L75.9 326.0 L76.7 326.0 L77.5 326.0 L78.3 326.0 L79.1 326.0 L79.9 326.0 L80.7 326.0 L81.5 326.0 L82.3 326.0 L83.1 326.0 L84.0 326.0 L84.8 326.0 L85.6 326.0 L86.4 326.0 L87.2 326.0 L88.0 326.0 L88.8 326.0 L89.6 326.0 L90.4 326.0 L91.2 326.0 L92.0 326.0 L92.9 326.0 L93.7 326.0 L94.5 326.0 L95.3 326.0 L96.1 326.0 L96.9 326.0 L97.7 326.0 L98.5 326.0 L99.3 326.0 L100.1 326.0 L100.9 326.0 L101.8 326.0 L102.6 326.0 L103.4 326.0 L104.2 326.0 L105.0 326.0 L105.8 326.0 L106.6 326.0 L107.4 326.1 L108.2 326.1 L109.0 326.1 L109.8 326.1 L110.7 326.1 L111.5 326.1 L112.3 326.1 L113.1 326.1 L113.9 326.1 L114.7 326.1 L115.5 326.1 L116.3 326.1 L117.1 326.1 L117.9 326.1 L118.7 326.1 L119.6 326.1 L120.4 326.1 L121.2 326.1 L122.0 326.2 L122.8 326.2 L123.6 326.2 L124.4 326.2 L125.2 326.2 L126.0 326.2 L126.8 326.2 L127.7 326.2 L128.5 326.2 L129.3 326.2 L130.1 326.2 L130.9 326.2 L131.7 326.3 L132.5 326.3 L133.3 326.3 L134.1 326.3 L134.9 326.3 L135.7 326.3 L136.6 326.3 L137.4 326.3 L138.2 326.3 L139.0 326.4 L139.8 326.4 L140.6 326.4 L141.4 326.4 L142.2 326.4 L143.0 326.4 L143.8 326.4 L144.6 326.4 L145.5 326.4 L146.3 326.5 L147.1 326.5 L147.9 326.5 L148.7 326.5" fill="none" stroke="#1d3a93" stroke-width="1.50" stroke-linejoin="round" />
</g>
<path d="M52.9 194.7 L54.6 204.0 L56.7 213.9 L59.4 225.0 L62.6 235.6 L66.0 244.6 L70.3 252.2 L74.6 257.6 L79.2 261.1 L83.4 263.0 L87.8 263.7 L92.4 263.0 L97.1 261.1 L101.2 257.4 L104.8 252.2 L108.8 244.4 L112.4 235.6 L116.0 225.0 L118.8 213.9 L121.0 204.0 L122.6 195.5" fill="none" stroke="#000" stroke-width="1.50" stroke-linejoin="round" stroke-dasharray="5.4 3.6"/>
<rect x="27.3" y="167.4" width="121.4" height="164.2" fill="none" stroke="#000" stroke-width="1.00" />
<line x1="27.3" y1="331.7" x2="30.6" y2="331.7" stroke="#000" stroke-width="0.90" />
<text x="24.5" y="334.4" font-size="7.90" fill="#000" text-anchor="end" font-weight="normal" font-style="normal" >0</text>
<line x1="27.3" y1="311.1" x2="29.1" y2="311.1" stroke="#000" stroke-width="0.90" />
<line x1="27.3" y1="290.4" x2="30.6" y2="290.4" stroke="#000" stroke-width="0.90" />
<text x="24.5" y="293.1" font-size="7.90" fill="#000" text-anchor="end" font-weight="normal" font-style="normal" >50</text>
<line x1="27.3" y1="269.8" x2="29.1" y2="269.8" stroke="#000" stroke-width="0.90" />
<line x1="27.3" y1="249.1" x2="30.6" y2="249.1" stroke="#000" stroke-width="0.90" />
<text x="24.5" y="251.8" font-size="7.90" fill="#000" text-anchor="end" font-weight="normal" font-style="normal" >100</text>
<line x1="27.3" y1="228.4" x2="29.1" y2="228.4" stroke="#000" stroke-width="0.90" />
<line x1="27.3" y1="207.8" x2="30.6" y2="207.8" stroke="#000" stroke-width="0.90" />
<text x="24.5" y="210.6" font-size="7.90" fill="#000" text-anchor="end" font-weight="normal" font-style="normal" >150</text>
<line x1="27.3" y1="187.2" x2="29.1" y2="187.2" stroke="#000" stroke-width="0.90" />
<text x="27.3" y="342.3" font-size="7.90" fill="#000" text-anchor="middle" font-weight="normal" font-style="normal" >−3</text>
<line x1="37.4" y1="331.6" x2="37.4" y2="329.8" stroke="#000" stroke-width="0.90" />
<line x1="47.5" y1="331.6" x2="47.5" y2="328.3" stroke="#000" stroke-width="0.90" />
<text x="47.5" y="342.3" font-size="7.90" fill="#000" text-anchor="middle" font-weight="normal" font-style="normal" >−2</text>
<line x1="57.7" y1="331.6" x2="57.7" y2="329.8" stroke="#000" stroke-width="0.90" />
<line x1="67.8" y1="331.6" x2="67.8" y2="328.3" stroke="#000" stroke-width="0.90" />
<text x="67.8" y="342.3" font-size="7.90" fill="#000" text-anchor="middle" font-weight="normal" font-style="normal" >−1</text>
<line x1="77.9" y1="331.6" x2="77.9" y2="329.8" stroke="#000" stroke-width="0.90" />
<line x1="88.0" y1="331.6" x2="88.0" y2="328.3" stroke="#000" stroke-width="0.90" />
<text x="88.0" y="342.3" font-size="7.90" fill="#000" text-anchor="middle" font-weight="normal" font-style="normal" >0</text>
<line x1="98.1" y1="331.6" x2="98.1" y2="329.8" stroke="#000" stroke-width="0.90" />
<line x1="108.2" y1="331.6" x2="108.2" y2="328.3" stroke="#000" stroke-width="0.90" />
<text x="108.2" y="342.3" font-size="7.90" fill="#000" text-anchor="middle" font-weight="normal" font-style="normal" >1</text>
<line x1="118.3" y1="331.6" x2="118.3" y2="329.8" stroke="#000" stroke-width="0.90" />
<line x1="128.5" y1="331.6" x2="128.5" y2="328.3" stroke="#000" stroke-width="0.90" />
<text x="128.5" y="342.3" font-size="7.90" fill="#000" text-anchor="middle" font-weight="normal" font-style="normal" >2</text>
<line x1="138.6" y1="331.6" x2="138.6" y2="329.8" stroke="#000" stroke-width="0.90" />
<text x="148.7" y="342.3" font-size="7.90" fill="#000" text-anchor="middle" font-weight="normal" font-style="normal" >3</text>
<text x="88.0" y="354.6" font-size="9.70" fill="#000" text-anchor="middle" font-weight="normal" font-style="normal" >Field (T)</text>
<text x="0.0" y="0.0" font-size="9.70" fill="#000" text-anchor="middle" font-weight="normal" font-style="normal" transform="translate(7.3,249.6) rotate(-90)">MRR (%)</text>
<text x="150.4" y="193.8" font-size="8.00" fill="#a9c8f5" text-anchor="start" font-weight="normal" font-style="normal" >10 K</text>
<text x="150.4" y="209.6" font-size="8.00" fill="#7ea4ec" text-anchor="start" font-weight="normal" font-style="normal" >30 K</text>
<text x="150.4" y="225.2" font-size="8.00" fill="#5a86e4" text-anchor="start" font-weight="normal" font-style="normal" >60 K</text>
<text x="150.4" y="240.3" font-size="8.00" fill="#4a78df" text-anchor="start" font-weight="normal" font-style="normal" >80 K</text>
<text x="150.4" y="255.7" font-size="8.00" fill="#3b6bd9" text-anchor="start" font-weight="normal" font-style="normal" >100 K</text>
<text x="150.4" y="271.0" font-size="8.00" fill="#3767d6" text-anchor="start" font-weight="normal" font-style="normal" >120 K</text>
<text x="150.4" y="285.8" font-size="8.00" fill="#3562d0" text-anchor="start" font-weight="normal" font-style="normal" >130 K</text>
<text x="150.4" y="300.4" font-size="8.00" fill="#2f58c4" text-anchor="start" font-weight="normal" font-style="normal" >150 K</text>
<text x="150.4" y="314.4" font-size="8.00" fill="#23459f" text-anchor="start" font-weight="normal" font-style="normal" >200 K</text>
<text x="150.4" y="327.2" font-size="8.00" fill="#1d3a93" text-anchor="start" font-weight="normal" font-style="normal" >250 K</text>
<text x="88.0" y="304.6" font-size="8.70" fill="#3a6bd6" text-anchor="middle" font-weight="normal" font-style="normal" >CrSBr</text>
<text x="191.0" y="164.8" font-size="14.80" fill="#000" text-anchor="start" font-weight="bold" font-style="normal" >d</text>
<clipPath id="cd"><rect x="204.5" y="167.4" width="121.4" height="164.2"/></clipPath>
<g clip-path="url(#cd)">
<path d="M204.5 187.8 L205.3 187.8 L206.1 187.8 L206.9 187.8 L207.7 187.8 L208.6 187.8 L209.4 187.8 L210.2 187.8 L211.0 187.8 L211.8 187.8 L212.6 187.8 L213.4 187.8 L214.2 187.8 L215.0 187.8 L215.8 187.8 L216.6 187.8 L217.5 187.8 L218.3 187.8 L219.1 187.8 L219.9 187.8 L220.7 187.8 L221.5 187.8 L222.3 187.8 L223.1 187.8 L223.9 187.8 L224.7 187.8 L225.5 187.8 L226.4 187.5 L227.2 187.2 L228.0 186.8 L228.8 186.4 L229.6 186.0 L230.4 185.6 L231.2 185.1 L232.0 184.7 L232.8 184.2 L233.6 183.8 L234.5 183.3 L235.3 182.9 L236.1 182.4 L236.9 182.0 L237.7 181.6 L238.5 181.1 L239.3 180.7 L240.1 180.3 L240.9 179.9 L241.7 179.5 L242.5 179.1 L243.4 178.7 L244.2 178.3 L245.0 178.0 L245.8 177.6 L246.6 177.3 L247.4 176.9 L248.2 176.6 L249.0 176.3 L249.8 176.0 L250.6 175.7 L251.4 175.4 L252.3 175.2 L253.1 174.9 L253.9 174.7 L254.7 174.5 L255.5 174.3 L256.3 174.1 L257.1 173.9 L257.9 173.7 L258.7 173.6 L259.5 173.5 L260.3 173.3 L261.2 173.2 L262.0 173.2 L262.8 173.1 L263.6 173.0 L264.4 173.0 L265.2 173.0 L266.0 173.0 L266.8 173.0 L267.6 173.1 L268.4 173.2 L269.2 173.2 L270.1 173.3 L270.9 173.5 L271.7 173.6 L272.5 173.7 L273.3 173.9 L274.1 174.1 L274.9 174.3 L275.7 174.5 L276.5 174.7 L277.3 174.9 L278.1 175.2 L279.0 175.4 L279.8 175.7 L280.6 176.0 L281.4 176.3 L282.2 176.6 L283.0 176.9 L283.8 177.3 L284.6 177.6 L285.4 178.0 L286.2 178.3 L287.0 178.7 L287.9 179.1 L288.7 179.5 L289.5 179.9 L290.3 180.3 L291.1 180.7 L291.9 181.1 L292.7 181.6 L293.5 182.0 L294.3 182.4 L295.1 182.9 L295.9 183.3 L296.8 183.8 L297.6 184.2 L298.4 184.7 L299.2 185.1 L300.0 185.6 L300.8 186.0 L301.6 186.4 L302.4 186.8 L303.2 187.2 L304.0 187.5 L304.9 187.8 L305.7 187.8 L306.5 187.8 L307.3 187.8 L308.1 187.8 L308.9 187.8 L309.7 187.8 L310.5 187.8 L311.3 187.8 L312.1 187.8 L312.9 187.8 L313.8 187.8 L314.6 187.8 L315.4 187.8 L316.2 187.8 L317.0 187.8 L317.8 187.8 L318.6 187.8 L319.4 187.8 L320.2 187.8 L321.0 187.8 L321.8 187.8 L322.7 187.8 L323.5 187.8 L324.3 187.8 L325.1 187.8 L325.9 187.8" fill="none" stroke="#f3b3b3" stroke-width="1.25" stroke-linejoin="round" />
<path d="M204.5 205.6 L205.3 205.6 L206.1 205.6 L206.9 205.6 L207.7 205.6 L208.6 205.6 L209.4 205.6 L210.2 205.6 L211.0 205.6 L211.8 205.6 L212.6 205.6 L213.4 205.6 L214.2 205.6 L215.0 205.6 L215.8 205.6 L216.6 205.6 L217.5 205.6 L218.3 205.6 L219.1 205.5 L219.9 205.5 L220.7 205.5 L221.5 205.5 L222.3 205.5 L223.1 205.5 L223.9 205.5 L224.7 205.5 L225.5 205.5 L226.4 205.5 L227.2 205.5 L228.0 205.5 L228.8 205.4 L229.6 205.0 L230.4 204.6 L231.2 204.1 L232.0 203.6 L232.8 203.2 L233.6 202.6 L234.5 202.1 L235.3 201.6 L236.1 201.1 L236.9 200.6 L237.7 200.1 L238.5 199.6 L239.3 199.1 L240.1 198.6 L240.9 198.1 L241.7 197.6 L242.5 197.1 L243.4 196.6 L244.2 196.2 L245.0 195.7 L245.8 195.3 L246.6 194.9 L247.4 194.5 L248.2 194.1 L249.0 193.7 L249.8 193.3 L250.6 193.0 L251.4 192.6 L252.3 192.3 L253.1 192.0 L253.9 191.7 L254.7 191.4 L255.5 191.2 L256.3 190.9 L257.1 190.7 L257.9 190.5 L258.7 190.3 L259.5 190.2 L260.3 190.0 L261.2 189.9 L262.0 189.8 L262.8 189.7 L263.6 189.7 L264.4 189.6 L265.2 189.6 L266.0 189.6 L266.8 189.7 L267.6 189.7 L268.4 189.8 L269.2 189.9 L270.1 190.0 L270.9 190.2 L271.7 190.3 L272.5 190.5 L273.3 190.7 L274.1 190.9 L274.9 191.2 L275.7 191.4 L276.5 191.7 L277.3 192.0 L278.1 192.3 L279.0 192.6 L279.8 193.0 L280.6 193.3 L281.4 193.7 L282.2 194.1 L283.0 194.5 L283.8 194.9 L284.6 195.3 L285.4 195.7 L286.2 196.2 L287.0 196.6 L287.9 197.1 L288.7 197.6 L289.5 198.1 L290.3 198.6 L291.1 199.1 L291.9 199.6 L292.7 200.1 L293.5 200.6 L294.3 201.1 L295.1 201.6 L295.9 202.1 L296.8 202.6 L297.6 203.2 L298.4 203.6 L299.2 204.1 L300.0 204.6 L300.8 205.0 L301.6 205.4 L302.4 205.5 L303.2 205.5 L304.0 205.5 L304.9 205.5 L305.7 205.5 L306.5 205.5 L307.3 205.5 L308.1 205.5 L308.9 205.5 L309.7 205.5 L310.5 205.5 L311.3 205.5 L312.1 205.6 L312.9 205.6 L313.8 205.6 L314.6 205.6 L315.4 205.6 L316.2 205.6 L317.0 205.6 L317.8 205.6 L318.6 205.6 L319.4 205.6 L320.2 205.6 L321.0 205.6 L321.8 205.6 L322.7 205.6 L323.5 205.6 L324.3 205.6 L325.1 205.6 L325.9 205.6" fill="none" stroke="#e88d8d" stroke-width="1.25" stroke-linejoin="round" />
<path d="M204.5 221.0 L205.3 221.0 L206.1 221.0 L206.9 221.0 L207.7 221.0 L208.6 221.0 L209.4 221.0 L210.2 221.0 L211.0 221.0 L211.8 220.9 L212.6 220.9 L213.4 220.9 L214.2 220.9 L215.0 220.9 L215.8 220.9 L216.6 220.9 L217.5 220.9 L218.3 220.9 L219.1 220.9 L219.9 220.9 L220.7 220.9 L221.5 220.8 L222.3 220.8 L223.1 220.8 L223.9 220.8 L224.7 220.8 L225.5 220.8 L226.4 220.8 L227.2 220.8 L228.0 220.8 L228.8 220.7 L229.6 220.7 L230.4 220.7 L231.2 220.7 L232.0 220.7 L232.8 220.7 L233.6 220.5 L234.5 220.1 L235.3 219.6 L236.1 219.0 L236.9 218.5 L237.7 217.9 L238.5 217.3 L239.3 216.7 L240.1 216.1 L240.9 215.5 L241.7 214.9 L242.5 214.3 L243.4 213.7 L244.2 213.1 L245.0 212.6 L245.8 212.0 L246.6 211.5 L247.4 211.0 L248.2 210.5 L249.0 210.0 L249.8 209.5 L250.6 209.0 L251.4 208.6 L252.3 208.2 L253.1 207.8 L253.9 207.4 L254.7 207.0 L255.5 206.7 L256.3 206.4 L257.1 206.1 L257.9 205.8 L258.7 205.6 L259.5 205.4 L260.3 205.2 L261.2 205.0 L262.0 204.9 L262.8 204.8 L263.6 204.7 L264.4 204.6 L265.2 204.6 L266.0 204.6 L266.8 204.7 L267.6 204.8 L268.4 204.9 L269.2 205.0 L270.1 205.2 L270.9 205.4 L271.7 205.6 L272.5 205.8 L273.3 206.1 L274.1 206.4 L274.9 206.7 L275.7 207.0 L276.5 207.4 L277.3 207.8 L278.1 208.2 L279.0 208.6 L279.8 209.0 L280.6 209.5 L281.4 210.0 L282.2 210.5 L283.0 211.0 L283.8 211.5 L284.6 212.0 L285.4 212.6 L286.2 213.1 L287.0 213.7 L287.9 214.3 L288.7 214.9 L289.5 215.5 L290.3 216.1 L291.1 216.7 L291.9 217.3 L292.7 217.9 L293.5 218.5 L294.3 219.0 L295.1 219.6 L295.9 220.1 L296.8 220.5 L297.6 220.7 L298.4 220.7 L299.2 220.7 L300.0 220.7 L300.8 220.7 L301.6 220.7 L302.4 220.8 L303.2 220.8 L304.0 220.8 L304.9 220.8 L305.7 220.8 L306.5 220.8 L307.3 220.8 L308.1 220.8 L308.9 220.8 L309.7 220.9 L310.5 220.9 L311.3 220.9 L312.1 220.9 L312.9 220.9 L313.8 220.9 L314.6 220.9 L315.4 220.9 L316.2 220.9 L317.0 220.9 L317.8 220.9 L318.6 220.9 L319.4 221.0 L320.2 221.0 L321.0 221.0 L321.8 221.0 L322.7 221.0 L323.5 221.0 L324.3 221.0 L325.1 221.0 L325.9 221.0" fill="none" stroke="#dd6a6a" stroke-width="1.25" stroke-linejoin="round" />
<path d="M204.5 237.6 L205.3 237.6 L206.1 237.6 L206.9 237.5 L207.7 237.5 L208.6 237.5 L209.4 237.5 L210.2 237.5 L211.0 237.4 L211.8 237.4 L212.6 237.4 L213.4 237.4 L214.2 237.3 L215.0 237.3 L215.8 237.3 L216.6 237.3 L217.5 237.2 L218.3 237.2 L219.1 237.2 L219.9 237.1 L220.7 237.1 L221.5 237.1 L222.3 237.0 L223.1 237.0 L223.9 237.0 L224.7 236.9 L225.5 236.9 L226.4 236.8 L227.2 236.8 L228.0 236.8 L228.8 236.7 L229.6 236.7 L230.4 236.6 L231.2 236.6 L232.0 236.5 L232.8 236.5 L233.6 236.4 L234.5 236.4 L235.3 236.3 L236.1 236.2 L236.9 236.2 L237.7 236.0 L238.5 235.5 L239.3 234.9 L240.1 234.3 L240.9 233.7 L241.7 233.0 L242.5 232.3 L243.4 231.7 L244.2 231.0 L245.0 230.3 L245.8 229.6 L246.6 228.9 L247.4 228.3 L248.2 227.6 L249.0 227.0 L249.8 226.4 L250.6 225.8 L251.4 225.2 L252.3 224.6 L253.1 224.1 L253.9 223.6 L254.7 223.1 L255.5 222.7 L256.3 222.2 L257.1 221.8 L257.9 221.5 L258.7 221.1 L259.5 220.8 L260.3 220.6 L261.2 220.3 L262.0 220.2 L262.8 220.0 L263.6 219.9 L264.4 219.8 L265.2 219.8 L266.0 219.8 L266.8 219.9 L267.6 220.0 L268.4 220.2 L269.2 220.3 L270.1 220.6 L270.9 220.8 L271.7 221.1 L272.5 221.5 L273.3 221.8 L274.1 222.2 L274.9 222.7 L275.7 223.1 L276.5 223.6 L277.3 224.1 L278.1 224.6 L279.0 225.2 L279.8 225.8 L280.6 226.4 L281.4 227.0 L282.2 227.6 L283.0 228.3 L283.8 228.9 L284.6 229.6 L285.4 230.3 L286.2 231.0 L287.0 231.7 L287.9 232.3 L288.7 233.0 L289.5 233.7 L290.3 234.3 L291.1 234.9 L291.9 235.5 L292.7 236.0 L293.5 236.2 L294.3 236.2 L295.1 236.3 L295.9 236.4 L296.8 236.4 L297.6 236.5 L298.4 236.5 L299.2 236.6 L300.0 236.6 L300.8 236.7 L301.6 236.7 L302.4 236.8 L303.2 236.8 L304.0 236.8 L304.9 236.9 L305.7 236.9 L306.5 237.0 L307.3 237.0 L308.1 237.0 L308.9 237.1 L309.7 237.1 L310.5 237.1 L311.3 237.2 L312.1 237.2 L312.9 237.2 L313.8 237.3 L314.6 237.3 L315.4 237.3 L316.2 237.3 L317.0 237.4 L317.8 237.4 L318.6 237.4 L319.4 237.4 L320.2 237.5 L321.0 237.5 L321.8 237.5 L322.7 237.5 L323.5 237.5 L324.3 237.6 L325.1 237.6 L325.9 237.6" fill="none" stroke="#d35252" stroke-width="1.25" stroke-linejoin="round" />
<path d="M204.5 254.0 L205.3 254.0 L206.1 253.9 L206.9 253.9 L207.7 253.9 L208.6 253.8 L209.4 253.8 L210.2 253.7 L211.0 253.7 L211.8 253.6 L212.6 253.6 L213.4 253.6 L214.2 253.5 L215.0 253.5 L215.8 253.4 L216.6 253.3 L217.5 253.3 L218.3 253.2 L219.1 253.2 L219.9 253.1 L220.7 253.0 L221.5 253.0 L222.3 252.9 L223.1 252.8 L223.9 252.8 L224.7 252.7 L225.5 252.6 L226.4 252.5 L227.2 252.4 L228.0 252.3 L228.8 252.2 L229.6 252.1 L230.4 252.0 L231.2 251.9 L232.0 251.8 L232.8 251.7 L233.6 251.6 L234.5 251.5 L235.3 251.4 L236.1 251.2 L236.9 251.1 L237.7 251.0 L238.5 250.8 L239.3 250.7 L240.1 250.5 L240.9 250.4 L241.7 250.2 L242.5 250.0 L243.4 249.9 L244.2 249.7 L245.0 249.4 L245.8 248.7 L246.6 247.8 L247.4 246.9 L248.2 245.9 L249.0 244.9 L249.8 243.9 L250.6 242.9 L251.4 241.8 L252.3 240.8 L253.1 239.8 L253.9 238.9 L254.7 237.9 L255.5 237.0 L256.3 236.2 L257.1 235.4 L257.9 234.7 L258.7 234.0 L259.5 233.4 L260.3 232.8 L261.2 232.3 L262.0 232.0 L262.8 231.6 L263.6 231.4 L264.4 231.3 L265.2 231.2 L266.0 231.3 L266.8 231.4 L267.6 231.6 L268.4 232.0 L269.2 232.3 L270.1 232.8 L270.9 233.4 L271.7 234.0 L272.5 234.7 L273.3 235.4 L274.1 236.2 L274.9 237.0 L275.7 237.9 L276.5 238.9 L277.3 239.8 L278.1 240.8 L279.0 241.8 L279.8 242.9 L280.6 243.9 L281.4 244.9 L282.2 245.9 L283.0 246.9 L283.8 247.8 L284.6 248.7 L285.4 249.4 L286.2 249.7 L287.0 249.9 L287.9 250.0 L288.7 250.2 L289.5 250.4 L290.3 250.5 L291.1 250.7 L291.9 250.8 L292.7 251.0 L293.5 251.1 L294.3 251.2 L295.1 251.4 L295.9 251.5 L296.8 251.6 L297.6 251.7 L298.4 251.8 L299.2 251.9 L300.0 252.0 L300.8 252.1 L301.6 252.2 L302.4 252.3 L303.2 252.4 L304.0 252.5 L304.9 252.6 L305.7 252.7 L306.5 252.8 L307.3 252.8 L308.1 252.9 L308.9 253.0 L309.7 253.0 L310.5 253.1 L311.3 253.2 L312.1 253.2 L312.9 253.3 L313.8 253.3 L314.6 253.4 L315.4 253.5 L316.2 253.5 L317.0 253.6 L317.8 253.6 L318.6 253.6 L319.4 253.7 L320.2 253.7 L321.0 253.8 L321.8 253.8 L322.7 253.9 L323.5 253.9 L324.3 253.9 L325.1 254.0 L325.9 254.0" fill="none" stroke="#c53c3c" stroke-width="1.30" stroke-linejoin="round" />
<path d="M204.5 270.0 L205.3 270.0 L206.1 269.9 L206.9 269.9 L207.7 269.8 L208.6 269.8 L209.4 269.7 L210.2 269.6 L211.0 269.6 L211.8 269.5 L212.6 269.5 L213.4 269.4 L214.2 269.3 L215.0 269.3 L215.8 269.2 L216.6 269.1 L217.5 269.0 L218.3 268.9 L219.1 268.9 L219.9 268.8 L220.7 268.7 L221.5 268.6 L222.3 268.5 L223.1 268.4 L223.9 268.3 L224.7 268.2 L225.5 268.0 L226.4 267.9 L227.2 267.8 L228.0 267.6 L228.8 267.5 L229.6 267.3 L230.4 267.2 L231.2 267.0 L232.0 266.9 L232.8 266.7 L233.6 266.5 L234.5 266.3 L235.3 266.1 L236.1 265.9 L236.9 265.7 L237.7 265.4 L238.5 265.2 L239.3 264.9 L240.1 264.7 L240.9 264.4 L241.7 264.1 L242.5 263.8 L243.4 263.5 L244.2 263.2 L245.0 262.8 L245.8 262.5 L246.6 262.1 L247.4 261.7 L248.2 261.3 L249.0 260.9 L249.8 260.5 L250.6 260.1 L251.4 259.7 L252.3 259.3 L253.1 258.9 L253.9 258.4 L254.7 258.0 L255.5 257.2 L256.3 256.1 L257.1 255.0 L257.9 253.8 L258.7 252.6 L259.5 251.5 L260.3 250.5 L261.2 249.5 L262.0 248.7 L262.8 248.1 L263.6 247.6 L264.4 247.3 L265.2 247.2 L266.0 247.3 L266.8 247.6 L267.6 248.1 L268.4 248.7 L269.2 249.5 L270.1 250.5 L270.9 251.5 L271.7 252.6 L272.5 253.8 L273.3 255.0 L274.1 256.1 L274.9 257.2 L275.7 258.0 L276.5 258.4 L277.3 258.9 L278.1 259.3 L279.0 259.7 L279.8 260.1 L280.6 260.5 L281.4 260.9 L282.2 261.3 L283.0 261.7 L283.8 262.1 L284.6 262.5 L285.4 262.8 L286.2 263.2 L287.0 263.5 L287.9 263.8 L288.7 264.1 L289.5 264.4 L290.3 264.7 L291.1 264.9 L291.9 265.2 L292.7 265.4 L293.5 265.7 L294.3 265.9 L295.1 266.1 L295.9 266.3 L296.8 266.5 L297.6 266.7 L298.4 266.9 L299.2 267.0 L300.0 267.2 L300.8 267.3 L301.6 267.5 L302.4 267.6 L303.2 267.8 L304.0 267.9 L304.9 268.0 L305.7 268.2 L306.5 268.3 L307.3 268.4 L308.1 268.5 L308.9 268.6 L309.7 268.7 L310.5 268.8 L311.3 268.9 L312.1 268.9 L312.9 269.0 L313.8 269.1 L314.6 269.2 L315.4 269.3 L316.2 269.3 L317.0 269.4 L317.8 269.5 L318.6 269.5 L319.4 269.6 L320.2 269.6 L321.0 269.7 L321.8 269.8 L322.7 269.8 L323.5 269.9 L324.3 269.9 L325.1 270.0 L325.9 270.0" fill="none" stroke="#b83434" stroke-width="1.30" stroke-linejoin="round" />
<path d="M204.5 285.2 L205.3 285.2 L206.1 285.1 L206.9 285.0 L207.7 285.0 L208.6 284.9 L209.4 284.9 L210.2 284.8 L211.0 284.8 L211.8 284.7 L212.6 284.6 L213.4 284.5 L214.2 284.5 L215.0 284.4 L215.8 284.3 L216.6 284.2 L217.5 284.1 L218.3 284.1 L219.1 284.0 L219.9 283.9 L220.7 283.8 L221.5 283.7 L222.3 283.5 L223.1 283.4 L223.9 283.3 L224.7 283.2 L225.5 283.0 L226.4 282.9 L227.2 282.8 L228.0 282.6 L228.8 282.4 L229.6 282.3 L230.4 282.1 L231.2 281.9 L232.0 281.7 L232.8 281.5 L233.6 281.3 L234.5 281.1 L235.3 280.8 L236.1 280.6 L236.9 280.3 L237.7 280.0 L238.5 279.8 L239.3 279.4 L240.1 279.1 L240.9 278.8 L241.7 278.4 L242.5 278.1 L243.4 277.7 L244.2 277.3 L245.0 276.9 L245.8 276.4 L246.6 275.9 L247.4 275.5 L248.2 275.0 L249.0 274.4 L249.8 273.9 L250.6 273.3 L251.4 272.8 L252.3 272.2 L253.1 271.6 L253.9 271.0 L254.7 270.4 L255.5 269.8 L256.3 269.2 L257.1 268.7 L257.9 268.1 L258.7 267.6 L259.5 267.1 L260.3 266.7 L261.2 266.3 L262.0 266.0 L262.8 265.7 L263.6 265.6 L264.4 265.4 L265.2 265.4 L266.0 265.4 L266.8 265.6 L267.6 265.7 L268.4 266.0 L269.2 266.3 L270.1 266.7 L270.9 267.1 L271.7 267.6 L272.5 268.1 L273.3 268.7 L274.1 269.2 L274.9 269.8 L275.7 270.4 L276.5 271.0 L277.3 271.6 L278.1 272.2 L279.0 272.8 L279.8 273.3 L280.6 273.9 L281.4 274.4 L282.2 275.0 L283.0 275.5 L283.8 275.9 L284.6 276.4 L285.4 276.9 L286.2 277.3 L287.0 277.7 L287.9 278.1 L288.7 278.4 L289.5 278.8 L290.3 279.1 L291.1 279.4 L291.9 279.8 L292.7 280.0 L293.5 280.3 L294.3 280.6 L295.1 280.8 L295.9 281.1 L296.8 281.3 L297.6 281.5 L298.4 281.7 L299.2 281.9 L300.0 282.1 L300.8 282.3 L301.6 282.4 L302.4 282.6 L303.2 282.8 L304.0 282.9 L304.9 283.0 L305.7 283.2 L306.5 283.3 L307.3 283.4 L308.1 283.5 L308.9 283.7 L309.7 283.8 L310.5 283.9 L311.3 284.0 L312.1 284.1 L312.9 284.1 L313.8 284.2 L314.6 284.3 L315.4 284.4 L316.2 284.5 L317.0 284.5 L317.8 284.6 L318.6 284.7 L319.4 284.8 L320.2 284.8 L321.0 284.9 L321.8 284.9 L322.7 285.0 L323.5 285.0 L324.3 285.1 L325.1 285.2 L325.9 285.2" fill="none" stroke="#a62c2c" stroke-width="1.35" stroke-linejoin="round" />
<path d="M204.5 301.4 L205.3 301.3 L206.1 301.1 L206.9 301.0 L207.7 300.8 L208.6 300.7 L209.4 300.6 L210.2 300.4 L211.0 300.2 L211.8 300.1 L212.6 299.9 L213.4 299.7 L214.2 299.6 L215.0 299.4 L215.8 299.2 L216.6 299.0 L217.5 298.8 L218.3 298.6 L219.1 298.4 L219.9 298.2 L220.7 298.0 L221.5 297.8 L222.3 297.6 L223.1 297.3 L223.9 297.1 L224.7 296.9 L225.5 296.6 L226.4 296.4 L227.2 296.1 L228.0 295.9 L228.8 295.6 L229.6 295.3 L230.4 295.1 L231.2 294.8 L232.0 294.5 L232.8 294.2 L233.6 293.9 L234.5 293.6 L235.3 293.3 L236.1 293.0 L236.9 292.7 L237.7 292.4 L238.5 292.0 L239.3 291.7 L240.1 291.4 L240.9 291.1 L241.7 290.7 L242.5 290.4 L243.4 290.1 L244.2 289.8 L245.0 289.4 L245.8 289.1 L246.6 288.8 L247.4 288.5 L248.2 288.1 L249.0 287.8 L249.8 287.5 L250.6 287.2 L251.4 286.9 L252.3 286.7 L253.1 286.4 L253.9 286.1 L254.7 285.9 L255.5 285.6 L256.3 285.4 L257.1 285.2 L257.9 285.0 L258.7 284.9 L259.5 284.7 L260.3 284.6 L261.2 284.5 L262.0 284.4 L262.8 284.3 L263.6 284.2 L264.4 284.2 L265.2 284.2 L266.0 284.2 L266.8 284.2 L267.6 284.3 L268.4 284.4 L269.2 284.5 L270.1 284.6 L270.9 284.7 L271.7 284.9 L272.5 285.0 L273.3 285.2 L274.1 285.4 L274.9 285.6 L275.7 285.9 L276.5 286.1 L277.3 286.4 L278.1 286.7 L279.0 286.9 L279.8 287.2 L280.6 287.5 L281.4 287.8 L282.2 288.1 L283.0 288.5 L283.8 288.8 L284.6 289.1 L285.4 289.4 L286.2 289.8 L287.0 290.1 L287.9 290.4 L288.7 290.7 L289.5 291.1 L290.3 291.4 L291.1 291.7 L291.9 292.0 L292.7 292.4 L293.5 292.7 L294.3 293.0 L295.1 293.3 L295.9 293.6 L296.8 293.9 L297.6 294.2 L298.4 294.5 L299.2 294.8 L300.0 295.1 L300.8 295.3 L301.6 295.6 L302.4 295.9 L303.2 296.1 L304.0 296.4 L304.9 296.6 L305.7 296.9 L306.5 297.1 L307.3 297.3 L308.1 297.6 L308.9 297.8 L309.7 298.0 L310.5 298.2 L311.3 298.4 L312.1 298.6 L312.9 298.8 L313.8 299.0 L314.6 299.2 L315.4 299.4 L316.2 299.6 L317.0 299.7 L317.8 299.9 L318.6 300.1 L319.4 300.2 L320.2 300.4 L321.0 300.6 L321.8 300.7 L322.7 300.8 L323.5 301.0 L324.3 301.1 L325.1 301.3 L325.9 301.4" fill="none" stroke="#922525" stroke-width="1.70" stroke-linejoin="round" />
<path d="M204.5 315.4 L205.3 315.3 L206.1 315.1 L206.9 315.0 L207.7 314.8 L208.6 314.7 L209.4 314.6 L210.2 314.4 L211.0 314.3 L211.8 314.2 L212.6 314.0 L213.4 313.9 L214.2 313.8 L215.0 313.7 L215.8 313.5 L216.6 313.4 L217.5 313.3 L218.3 313.2 L219.1 313.1 L219.9 312.9 L220.7 312.8 L221.5 312.7 L222.3 312.6 L223.1 312.5 L223.9 312.4 L224.7 312.3 L225.5 312.2 L226.4 312.1 L227.2 312.0 L228.0 311.9 L228.8 311.8 L229.6 311.7 L230.4 311.6 L231.2 311.5 L232.0 311.4 L232.8 311.3 L233.6 311.2 L234.5 311.2 L235.3 311.1 L236.1 311.0 L236.9 310.9 L237.7 310.8 L238.5 310.8 L239.3 310.7 L240.1 310.6 L240.9 310.6 L241.7 310.5 L242.5 310.4 L243.4 310.4 L244.2 310.3 L245.0 310.2 L245.8 310.2 L246.6 310.1 L247.4 310.1 L248.2 310.0 L249.0 310.0 L249.8 309.9 L250.6 309.9 L251.4 309.8 L252.3 309.8 L253.1 309.7 L253.9 309.7 L254.7 309.7 L255.5 309.6 L256.3 309.6 L257.1 309.6 L257.9 309.5 L258.7 309.5 L259.5 309.5 L260.3 309.5 L261.2 309.4 L262.0 309.4 L262.8 309.4 L263.6 309.4 L264.4 309.4 L265.2 309.4 L266.0 309.4 L266.8 309.4 L267.6 309.4 L268.4 309.4 L269.2 309.4 L270.1 309.5 L270.9 309.5 L271.7 309.5 L272.5 309.5 L273.3 309.6 L274.1 309.6 L274.9 309.6 L275.7 309.7 L276.5 309.7 L277.3 309.7 L278.1 309.8 L279.0 309.8 L279.8 309.9 L280.6 309.9 L281.4 310.0 L282.2 310.0 L283.0 310.1 L283.8 310.1 L284.6 310.2 L285.4 310.2 L286.2 310.3 L287.0 310.4 L287.9 310.4 L288.7 310.5 L289.5 310.6 L290.3 310.6 L291.1 310.7 L291.9 310.8 L292.7 310.8 L293.5 310.9 L294.3 311.0 L295.1 311.1 L295.9 311.2 L296.8 311.2 L297.6 311.3 L298.4 311.4 L299.2 311.5 L300.0 311.6 L300.8 311.7 L301.6 311.8 L302.4 311.9 L303.2 312.0 L304.0 312.1 L304.9 312.2 L305.7 312.3 L306.5 312.4 L307.3 312.5 L308.1 312.6 L308.9 312.7 L309.7 312.8 L310.5 312.9 L311.3 313.1 L312.1 313.2 L312.9 313.3 L313.8 313.4 L314.6 313.5 L315.4 313.7 L316.2 313.8 L317.0 313.9 L317.8 314.0 L318.6 314.2 L319.4 314.3 L320.2 314.4 L321.0 314.6 L321.8 314.7 L322.7 314.8 L323.5 315.0 L324.3 315.1 L325.1 315.3 L325.9 315.4" fill="none" stroke="#6e1a1a" stroke-width="1.45" stroke-linejoin="round" />
<path d="M204.5 326.4 L205.3 326.4 L206.1 326.4 L206.9 326.3 L207.7 326.3 L208.6 326.3 L209.4 326.3 L210.2 326.3 L211.0 326.2 L211.8 326.2 L212.6 326.2 L213.4 326.2 L214.2 326.2 L215.0 326.1 L215.8 326.1 L216.6 326.1 L217.5 326.1 L218.3 326.1 L219.1 326.1 L219.9 326.0 L220.7 326.0 L221.5 326.0 L222.3 326.0 L223.1 326.0 L223.9 326.0 L224.7 326.0 L225.5 325.9 L226.4 325.9 L227.2 325.9 L228.0 325.9 L228.8 325.9 L229.6 325.9 L230.4 325.9 L231.2 325.9 L232.0 325.8 L232.8 325.8 L233.6 325.8 L234.5 325.8 L235.3 325.8 L236.1 325.8 L236.9 325.8 L237.7 325.8 L238.5 325.8 L239.3 325.7 L240.1 325.7 L240.9 325.7 L241.7 325.7 L242.5 325.7 L243.4 325.7 L244.2 325.7 L245.0 325.7 L245.8 325.7 L246.6 325.7 L247.4 325.7 L248.2 325.7 L249.0 325.7 L249.8 325.7 L250.6 325.6 L251.4 325.6 L252.3 325.6 L253.1 325.6 L253.9 325.6 L254.7 325.6 L255.5 325.6 L256.3 325.6 L257.1 325.6 L257.9 325.6 L258.7 325.6 L259.5 325.6 L260.3 325.6 L261.2 325.6 L262.0 325.6 L262.8 325.6 L263.6 325.6 L264.4 325.6 L265.2 325.6 L266.0 325.6 L266.8 325.6 L267.6 325.6 L268.4 325.6 L269.2 325.6 L270.1 325.6 L270.9 325.6 L271.7 325.6 L272.5 325.6 L273.3 325.6 L274.1 325.6 L274.9 325.6 L275.7 325.6 L276.5 325.6 L277.3 325.6 L278.1 325.6 L279.0 325.6 L279.8 325.6 L280.6 325.7 L281.4 325.7 L282.2 325.7 L283.0 325.7 L283.8 325.7 L284.6 325.7 L285.4 325.7 L286.2 325.7 L287.0 325.7 L287.9 325.7 L288.7 325.7 L289.5 325.7 L290.3 325.7 L291.1 325.7 L291.9 325.8 L292.7 325.8 L293.5 325.8 L294.3 325.8 L295.1 325.8 L295.9 325.8 L296.8 325.8 L297.6 325.8 L298.4 325.8 L299.2 325.9 L300.0 325.9 L300.8 325.9 L301.6 325.9 L302.4 325.9 L303.2 325.9 L304.0 325.9 L304.9 325.9 L305.7 326.0 L306.5 326.0 L307.3 326.0 L308.1 326.0 L308.9 326.0 L309.7 326.0 L310.5 326.0 L311.3 326.1 L312.1 326.1 L312.9 326.1 L313.8 326.1 L314.6 326.1 L315.4 326.1 L316.2 326.2 L317.0 326.2 L317.8 326.2 L318.6 326.2 L319.4 326.2 L320.2 326.3 L321.0 326.3 L321.8 326.3 L322.7 326.3 L323.5 326.3 L324.3 326.4 L325.1 326.4 L325.9 326.4" fill="none" stroke="#571313" stroke-width="1.50" stroke-linejoin="round" />
</g>
<path d="M224.9 185.3 L226.8 195.0 L228.8 204.9 L231.2 215.0 L233.9 224.1 L238.6 237.0 L244.1 248.4 L249.0 255.0 L254.3 259.9 L259.6 262.2 L265.2 262.9 L270.8 262.2 L276.0 259.9 L280.8 255.0 L285.0 248.4 L290.4 238.0 L295.2 226.6 L298.6 216.0 L301.6 204.9 L303.4 195.0 L304.9 185.8" fill="none" stroke="#000" stroke-width="1.50" stroke-linejoin="round" stroke-dasharray="5.4 3.6"/>
<rect x="204.5" y="167.4" width="121.4" height="164.2" fill="none" stroke="#000" stroke-width="1.00" />
<line x1="204.5" y1="332.7" x2="207.8" y2="332.7" stroke="#000" stroke-width="0.90" />
<text x="201.7" y="333.6" font-size="7.90" fill="#000" text-anchor="end" font-weight="normal" font-style="normal" >0</text>
<line x1="204.5" y1="316.1" x2="206.3" y2="316.1" stroke="#000" stroke-width="0.90" />
<line x1="204.5" y1="299.5" x2="207.8" y2="299.5" stroke="#000" stroke-width="0.90" />
<text x="201.7" y="301.0" font-size="7.90" fill="#000" text-anchor="end" font-weight="normal" font-style="normal" >50</text>
<line x1="204.5" y1="282.9" x2="206.3" y2="282.9" stroke="#000" stroke-width="0.90" />
<line x1="204.5" y1="266.2" x2="207.8" y2="266.2" stroke="#000" stroke-width="0.90" />
<text x="201.7" y="267.8" font-size="7.90" fill="#000" text-anchor="end" font-weight="normal" font-style="normal" >100</text>
<line x1="204.5" y1="249.6" x2="206.3" y2="249.6" stroke="#000" stroke-width="0.90" />
<line x1="204.5" y1="233.0" x2="207.8" y2="233.0" stroke="#000" stroke-width="0.90" />
<text x="201.7" y="234.5" font-size="7.90" fill="#000" text-anchor="end" font-weight="normal" font-style="normal" >150</text>
<line x1="204.5" y1="216.4" x2="206.3" y2="216.4" stroke="#000" stroke-width="0.90" />
<line x1="204.5" y1="199.8" x2="207.8" y2="199.8" stroke="#000" stroke-width="0.90" />
<text x="201.7" y="201.3" font-size="7.90" fill="#000" text-anchor="end" font-weight="normal" font-style="normal" >200</text>
<line x1="204.5" y1="183.2" x2="206.3" y2="183.2" stroke="#000" stroke-width="0.90" />
<text x="204.5" y="342.3" font-size="7.90" fill="#000" text-anchor="middle" font-weight="normal" font-style="normal" >−3</text>
<line x1="214.6" y1="331.6" x2="214.6" y2="329.8" stroke="#000" stroke-width="0.90" />
<line x1="224.7" y1="331.6" x2="224.7" y2="328.3" stroke="#000" stroke-width="0.90" />
<text x="224.7" y="342.3" font-size="7.90" fill="#000" text-anchor="middle" font-weight="normal" font-style="normal" >−2</text>
<line x1="234.9" y1="331.6" x2="234.9" y2="329.8" stroke="#000" stroke-width="0.90" />
<line x1="245.0" y1="331.6" x2="245.0" y2="328.3" stroke="#000" stroke-width="0.90" />
<text x="245.0" y="342.3" font-size="7.90" fill="#000" text-anchor="middle" font-weight="normal" font-style="normal" >−1</text>
<line x1="255.1" y1="331.6" x2="255.1" y2="329.8" stroke="#000" stroke-width="0.90" />
<line x1="265.2" y1="331.6" x2="265.2" y2="328.3" stroke="#000" stroke-width="0.90" />
<text x="265.2" y="342.3" font-size="7.90" fill="#000" text-anchor="middle" font-weight="normal" font-style="normal" >0</text>
<line x1="275.3" y1="331.6" x2="275.3" y2="329.8" stroke="#000" stroke-width="0.90" />
<line x1="285.4" y1="331.6" x2="285.4" y2="328.3" stroke="#000" stroke-width="0.90" />
<text x="285.4" y="342.3" font-size="7.90" fill="#000" text-anchor="middle" font-weight="normal" font-style="normal" >1</text>
<line x1="295.5" y1="331.6" x2="295.5" y2="329.8" stroke="#000" stroke-width="0.90" />
<line x1="305.7" y1="331.6" x2="305.7" y2="328.3" stroke="#000" stroke-width="0.90" />
<text x="305.7" y="342.3" font-size="7.90" fill="#000" text-anchor="middle" font-weight="normal" font-style="normal" >2</text>
<line x1="315.8" y1="331.6" x2="315.8" y2="329.8" stroke="#000" stroke-width="0.90" />
<text x="325.9" y="342.3" font-size="7.90" fill="#000" text-anchor="middle" font-weight="normal" font-style="normal" >3</text>
<text x="265.2" y="354.6" font-size="9.70" fill="#000" text-anchor="middle" font-weight="normal" font-style="normal" >Field (T)</text>
<text x="0.0" y="0.0" font-size="9.70" fill="#000" text-anchor="middle" font-weight="normal" font-style="normal" transform="translate(184.3,249.6) rotate(-90)">MRR (%)</text>
<text x="327.8" y="187.4" font-size="8.00" fill="#f3b3b3" text-anchor="start" font-weight="normal" font-style="normal" >10 K</text>
<text x="327.8" y="204.8" font-size="8.00" fill="#e88d8d" text-anchor="start" font-weight="normal" font-style="normal" >30 K</text>
<text x="327.8" y="219.8" font-size="8.00" fill="#dd6a6a" text-anchor="start" font-weight="normal" font-style="normal" >60 K</text>
<text x="327.8" y="236.7" font-size="8.00" fill="#d35252" text-anchor="start" font-weight="normal" font-style="normal" >80 K</text>
<text x="327.8" y="252.3" font-size="8.00" fill="#c53c3c" text-anchor="start" font-weight="normal" font-style="normal" >100 K</text>
<text x="327.8" y="267.8" font-size="8.00" fill="#b83434" text-anchor="start" font-weight="normal" font-style="normal" >120 K</text>
<text x="327.8" y="282.5" font-size="8.00" fill="#a62c2c" text-anchor="start" font-weight="normal" font-style="normal" >130 K</text>
<text x="327.8" y="297.1" font-size="8.00" fill="#922525" text-anchor="start" font-weight="normal" font-style="normal" >150 K</text>
<text x="327.8" y="311.1" font-size="8.00" fill="#6e1a1a" text-anchor="start" font-weight="normal" font-style="normal" >200 K</text>
<text x="327.8" y="325.9" font-size="8.00" fill="#571313" text-anchor="start" font-weight="normal" font-style="normal" >250 K</text>
<text x="266.6" y="303.4" font-size="8.70" fill="#c63e3e" text-anchor="middle" font-weight="normal" font-style="normal" >FGT/CrSBr</text>
<text x="15.3" y="364.2" font-size="14.80" fill="#000" text-anchor="start" font-weight="bold" font-style="normal" >e</text>
<path d="M30.7 394.0 L46.9 400.8 L71.2 418.0 L87.5 428.9 L103.7 445.1 L119.9 456.6 L128.0 471.2 L144.2 489.5" fill="none" stroke="#4876c6" stroke-width="1.60" stroke-linejoin="round" />
<line x1="30.7" y1="390.0" x2="30.7" y2="398.0" stroke="#4876c6" stroke-width="1.00" opacity="0.8"/>
<line x1="28.7" y1="390.0" x2="32.7" y2="390.0" stroke="#4876c6" stroke-width="0.90" opacity="0.75"/>
<line x1="28.7" y1="398.0" x2="32.7" y2="398.0" stroke="#4876c6" stroke-width="0.90" opacity="0.75"/>
<line x1="46.9" y1="397.4" x2="46.9" y2="404.2" stroke="#4876c6" stroke-width="1.00" opacity="0.8"/>
<line x1="44.9" y1="397.4" x2="48.9" y2="397.4" stroke="#4876c6" stroke-width="0.90" opacity="0.75"/>
<line x1="44.9" y1="404.2" x2="48.9" y2="404.2" stroke="#4876c6" stroke-width="0.90" opacity="0.75"/>
<line x1="71.2" y1="414.6" x2="71.2" y2="421.4" stroke="#4876c6" stroke-width="1.00" opacity="0.8"/>
<line x1="69.2" y1="414.6" x2="73.2" y2="414.6" stroke="#4876c6" stroke-width="0.90" opacity="0.75"/>
<line x1="69.2" y1="421.4" x2="73.2" y2="421.4" stroke="#4876c6" stroke-width="0.90" opacity="0.75"/>
<line x1="87.5" y1="425.9" x2="87.5" y2="431.9" stroke="#4876c6" stroke-width="1.00" opacity="0.8"/>
<line x1="85.5" y1="425.9" x2="89.5" y2="425.9" stroke="#4876c6" stroke-width="0.90" opacity="0.75"/>
<line x1="85.5" y1="431.9" x2="89.5" y2="431.9" stroke="#4876c6" stroke-width="0.90" opacity="0.75"/>
<line x1="103.7" y1="442.5" x2="103.7" y2="447.7" stroke="#4876c6" stroke-width="1.00" opacity="0.8"/>
<line x1="101.7" y1="442.5" x2="105.7" y2="442.5" stroke="#4876c6" stroke-width="0.90" opacity="0.75"/>
<line x1="101.7" y1="447.7" x2="105.7" y2="447.7" stroke="#4876c6" stroke-width="0.90" opacity="0.75"/>
<line x1="119.9" y1="454.2" x2="119.9" y2="459.0" stroke="#4876c6" stroke-width="1.00" opacity="0.8"/>
<line x1="117.9" y1="454.2" x2="121.9" y2="454.2" stroke="#4876c6" stroke-width="0.90" opacity="0.75"/>
<line x1="117.9" y1="459.0" x2="121.9" y2="459.0" stroke="#4876c6" stroke-width="0.90" opacity="0.75"/>
<line x1="128.0" y1="469.0" x2="128.0" y2="473.4" stroke="#4876c6" stroke-width="1.00" opacity="0.8"/>
<line x1="126.0" y1="469.0" x2="130.0" y2="469.0" stroke="#4876c6" stroke-width="0.90" opacity="0.75"/>
<line x1="126.0" y1="473.4" x2="130.0" y2="473.4" stroke="#4876c6" stroke-width="0.90" opacity="0.75"/>
<circle cx="30.7" cy="394.0" r="2.67" fill="#4876c6"/>
<circle cx="46.9" cy="400.8" r="2.67" fill="#4876c6"/>
<circle cx="71.2" cy="418.0" r="2.67" fill="#4876c6"/>
<circle cx="87.5" cy="428.9" r="2.67" fill="#4876c6"/>
<circle cx="103.7" cy="445.1" r="2.67" fill="#4876c6"/>
<circle cx="119.9" cy="456.6" r="2.67" fill="#4876c6"/>
<circle cx="128.0" cy="471.2" r="2.67" fill="#4876c6"/>
<circle cx="144.2" cy="489.5" r="2.67" fill="#4876c6"/>
<path d="M30.7 372.6 L46.9 383.5 L71.2 408.1 L87.5 419.0 L103.7 435.7 L119.9 453.5 L128.0 469.7 L144.2 489.5" fill="none" stroke="#e34c4f" stroke-width="1.60" stroke-linejoin="round" />
<line x1="30.7" y1="369.2" x2="30.7" y2="376.0" stroke="#e34c4f" stroke-width="1.00" opacity="0.8"/>
<line x1="28.7" y1="369.2" x2="32.7" y2="369.2" stroke="#e34c4f" stroke-width="0.90" opacity="0.75"/>
<line x1="28.7" y1="376.0" x2="32.7" y2="376.0" stroke="#e34c4f" stroke-width="0.90" opacity="0.75"/>
<line x1="46.9" y1="380.1" x2="46.9" y2="386.9" stroke="#e34c4f" stroke-width="1.00" opacity="0.8"/>
<line x1="44.9" y1="380.1" x2="48.9" y2="380.1" stroke="#e34c4f" stroke-width="0.90" opacity="0.75"/>
<line x1="44.9" y1="386.9" x2="48.9" y2="386.9" stroke="#e34c4f" stroke-width="0.90" opacity="0.75"/>
<line x1="71.2" y1="404.7" x2="71.2" y2="411.5" stroke="#e34c4f" stroke-width="1.00" opacity="0.8"/>
<line x1="69.2" y1="404.7" x2="73.2" y2="404.7" stroke="#e34c4f" stroke-width="0.90" opacity="0.75"/>
<line x1="69.2" y1="411.5" x2="73.2" y2="411.5" stroke="#e34c4f" stroke-width="0.90" opacity="0.75"/>
<line x1="87.5" y1="414.4" x2="87.5" y2="423.6" stroke="#e34c4f" stroke-width="1.00" opacity="0.8"/>
<line x1="85.5" y1="414.4" x2="89.5" y2="414.4" stroke="#e34c4f" stroke-width="0.90" opacity="0.75"/>
<line x1="85.5" y1="423.6" x2="89.5" y2="423.6" stroke="#e34c4f" stroke-width="0.90" opacity="0.75"/>
<line x1="103.7" y1="432.3" x2="103.7" y2="439.1" stroke="#e34c4f" stroke-width="1.00" opacity="0.8"/>
<line x1="101.7" y1="432.3" x2="105.7" y2="432.3" stroke="#e34c4f" stroke-width="0.90" opacity="0.75"/>
<line x1="101.7" y1="439.1" x2="105.7" y2="439.1" stroke="#e34c4f" stroke-width="0.90" opacity="0.75"/>
<line x1="119.9" y1="450.9" x2="119.9" y2="456.1" stroke="#e34c4f" stroke-width="1.00" opacity="0.8"/>
<line x1="117.9" y1="450.9" x2="121.9" y2="450.9" stroke="#e34c4f" stroke-width="0.90" opacity="0.75"/>
<line x1="117.9" y1="456.1" x2="121.9" y2="456.1" stroke="#e34c4f" stroke-width="0.90" opacity="0.75"/>
<line x1="128.0" y1="467.5" x2="128.0" y2="471.9" stroke="#e34c4f" stroke-width="1.00" opacity="0.8"/>
<line x1="126.0" y1="467.5" x2="130.0" y2="467.5" stroke="#e34c4f" stroke-width="0.90" opacity="0.75"/>
<line x1="126.0" y1="471.9" x2="130.0" y2="471.9" stroke="#e34c4f" stroke-width="0.90" opacity="0.75"/>
<rect x="28.3" y="370.2" width="4.8" height="4.8" fill="#e34c4f" stroke="none" stroke-width="1.00" />
<rect x="44.5" y="381.2" width="4.8" height="4.8" fill="#e34c4f" stroke="none" stroke-width="1.00" />
<rect x="68.9" y="405.7" width="4.8" height="4.8" fill="#e34c4f" stroke="none" stroke-width="1.00" />
<rect x="85.1" y="416.7" width="4.8" height="4.8" fill="#e34c4f" stroke="none" stroke-width="1.00" />
<rect x="101.3" y="433.4" width="4.8" height="4.8" fill="#e34c4f" stroke="none" stroke-width="1.00" />
<rect x="117.5" y="451.1" width="4.8" height="4.8" fill="#e34c4f" stroke="none" stroke-width="1.00" />
<rect x="125.6" y="467.3" width="4.8" height="4.8" fill="#e34c4f" stroke="none" stroke-width="1.00" />
<rect x="141.8" y="487.1" width="4.8" height="4.8" fill="#e34c4f" stroke="none" stroke-width="1.00" />
<rect x="27.0" y="366.3" width="121.3" height="126.1" fill="none" stroke="#000" stroke-width="1.00" />
<line x1="27.0" y1="489.5" x2="30.3" y2="489.5" stroke="#000" stroke-width="0.90" />
<text x="24.0" y="492.2" font-size="7.90" fill="#000" text-anchor="end" font-weight="normal" font-style="normal" >0.0</text>
<line x1="27.0" y1="476.4" x2="28.8" y2="476.4" stroke="#000" stroke-width="0.90" />
<line x1="27.0" y1="463.4" x2="30.3" y2="463.4" stroke="#000" stroke-width="0.90" />
<text x="24.0" y="466.1" font-size="7.90" fill="#000" text-anchor="end" font-weight="normal" font-style="normal" >0.5</text>
<line x1="27.0" y1="450.4" x2="28.8" y2="450.4" stroke="#000" stroke-width="0.90" />
<line x1="27.0" y1="437.3" x2="30.3" y2="437.3" stroke="#000" stroke-width="0.90" />
<text x="24.0" y="440.1" font-size="7.90" fill="#000" text-anchor="end" font-weight="normal" font-style="normal" >1.0</text>
<line x1="27.0" y1="424.2" x2="28.8" y2="424.2" stroke="#000" stroke-width="0.90" />
<line x1="27.0" y1="411.2" x2="30.3" y2="411.2" stroke="#000" stroke-width="0.90" />
<text x="24.0" y="413.9" font-size="7.90" fill="#000" text-anchor="end" font-weight="normal" font-style="normal" >1.5</text>
<line x1="27.0" y1="398.1" x2="28.8" y2="398.1" stroke="#000" stroke-width="0.90" />
<line x1="27.0" y1="385.1" x2="30.3" y2="385.1" stroke="#000" stroke-width="0.90" />
<text x="24.0" y="387.9" font-size="7.90" fill="#000" text-anchor="end" font-weight="normal" font-style="normal" >2.0</text>
<line x1="27.0" y1="372.1" x2="28.8" y2="372.1" stroke="#000" stroke-width="0.90" />
<line x1="46.9" y1="492.4" x2="46.9" y2="489.1" stroke="#000" stroke-width="0.90" />
<text x="46.9" y="501.8" font-size="7.90" fill="#000" text-anchor="middle" font-weight="normal" font-style="normal" >30</text>
<line x1="71.2" y1="492.4" x2="71.2" y2="489.1" stroke="#000" stroke-width="0.90" />
<text x="71.2" y="501.8" font-size="7.90" fill="#000" text-anchor="middle" font-weight="normal" font-style="normal" >60</text>
<line x1="95.6" y1="492.4" x2="95.6" y2="489.1" stroke="#000" stroke-width="0.90" />
<text x="95.6" y="501.8" font-size="7.90" fill="#000" text-anchor="middle" font-weight="normal" font-style="normal" >90</text>
<line x1="119.9" y1="492.4" x2="119.9" y2="489.1" stroke="#000" stroke-width="0.90" />
<text x="119.9" y="501.8" font-size="7.90" fill="#000" text-anchor="middle" font-weight="normal" font-style="normal" >120</text>
<line x1="144.2" y1="492.4" x2="144.2" y2="489.1" stroke="#000" stroke-width="0.90" />
<text x="144.2" y="501.8" font-size="7.90" fill="#000" text-anchor="middle" font-weight="normal" font-style="normal" >150</text>
<text x="87.6" y="516.2" font-size="9.70" fill="#000" text-anchor="middle" font-weight="normal" font-style="normal" >Temperature (K)</text>
<text x="0.0" y="0.0" font-size="9.70" fill="#000" text-anchor="middle" font-weight="normal" font-style="normal" transform="translate(6.7,430) rotate(-90)"><tspan font-style="italic">H</tspan><tspan font-style="italic" font-size="6.6" dy="1.6">s</tspan><tspan dy="-1.6"> (T)</tspan></text>
<line x1="68.2" y1="376.3" x2="85.7" y2="376.3" stroke="#4876c6" stroke-width="1.40" />
<circle cx="77.0" cy="376.3" r="2.4" fill="#4876c6"/>
<text x="88.3" y="379.2" font-size="8.00" fill="#4876c6" text-anchor="start" font-weight="normal" font-style="normal" >CrSBr</text>
<line x1="68.2" y1="386.0" x2="85.7" y2="386.0" stroke="#e34c4f" stroke-width="1.40" />
<rect x="74.9" y="383.9" width="4.1" height="4.1" fill="#e34c4f" stroke="none" stroke-width="1.00" />
<text x="88.3" y="388.9" font-size="8.00" fill="#e34c4f" text-anchor="start" font-weight="normal" font-style="normal" >FGT/CrSBr</text>
<text x="195.6" y="363.8" font-size="14.80" fill="#000" text-anchor="start" font-weight="bold" font-style="normal" >f</text>
<line x1="262.3" y1="411.0" x2="262.3" y2="492.4" stroke="#666" stroke-width="1.60" stroke-dasharray="6.2 3.95"/>
<path d="M205.9 477.1 L215.7 473.0 L230.3 469.6 L240.1 464.9 L249.9 458.6 L259.7 456.4 L264.5 455.2 L274.3 442.3 L298.8 388.2 L323.2 376.3" fill="none" stroke="#4876c6" stroke-width="1.30" stroke-linejoin="round" />
<line x1="205.9" y1="473.1" x2="205.9" y2="481.1" stroke="#4876c6" stroke-width="1.00" opacity="0.8"/>
<line x1="203.9" y1="473.1" x2="207.9" y2="473.1" stroke="#4876c6" stroke-width="0.90" opacity="0.75"/>
<line x1="203.9" y1="481.1" x2="207.9" y2="481.1" stroke="#4876c6" stroke-width="0.90" opacity="0.75"/>
<line x1="215.7" y1="469.4" x2="215.7" y2="476.6" stroke="#4876c6" stroke-width="1.00" opacity="0.8"/>
<line x1="213.7" y1="469.4" x2="217.7" y2="469.4" stroke="#4876c6" stroke-width="0.90" opacity="0.75"/>
<line x1="213.7" y1="476.6" x2="217.7" y2="476.6" stroke="#4876c6" stroke-width="0.90" opacity="0.75"/>
<line x1="230.3" y1="465.8" x2="230.3" y2="473.4" stroke="#4876c6" stroke-width="1.00" opacity="0.8"/>
<line x1="228.3" y1="465.8" x2="232.3" y2="465.8" stroke="#4876c6" stroke-width="0.90" opacity="0.75"/>
<line x1="228.3" y1="473.4" x2="232.3" y2="473.4" stroke="#4876c6" stroke-width="0.90" opacity="0.75"/>
<line x1="240.1" y1="461.7" x2="240.1" y2="468.1" stroke="#4876c6" stroke-width="1.00" opacity="0.8"/>
<line x1="238.1" y1="461.7" x2="242.1" y2="461.7" stroke="#4876c6" stroke-width="0.90" opacity="0.75"/>
<line x1="238.1" y1="468.1" x2="242.1" y2="468.1" stroke="#4876c6" stroke-width="0.90" opacity="0.75"/>
<line x1="249.9" y1="455.6" x2="249.9" y2="461.6" stroke="#4876c6" stroke-width="1.00" opacity="0.8"/>
<line x1="247.9" y1="455.6" x2="251.9" y2="455.6" stroke="#4876c6" stroke-width="0.90" opacity="0.75"/>
<line x1="247.9" y1="461.6" x2="251.9" y2="461.6" stroke="#4876c6" stroke-width="0.90" opacity="0.75"/>
<line x1="259.7" y1="453.4" x2="259.7" y2="459.4" stroke="#4876c6" stroke-width="1.00" opacity="0.8"/>
<line x1="257.7" y1="453.4" x2="261.7" y2="453.4" stroke="#4876c6" stroke-width="0.90" opacity="0.75"/>
<line x1="257.7" y1="459.4" x2="261.7" y2="459.4" stroke="#4876c6" stroke-width="0.90" opacity="0.75"/>
<line x1="264.5" y1="452.0" x2="264.5" y2="458.4" stroke="#4876c6" stroke-width="1.00" opacity="0.8"/>
<line x1="262.5" y1="452.0" x2="266.5" y2="452.0" stroke="#4876c6" stroke-width="0.90" opacity="0.75"/>
<line x1="262.5" y1="458.4" x2="266.5" y2="458.4" stroke="#4876c6" stroke-width="0.90" opacity="0.75"/>
<line x1="274.3" y1="439.7" x2="274.3" y2="444.9" stroke="#4876c6" stroke-width="1.00" opacity="0.8"/>
<line x1="272.3" y1="439.7" x2="276.3" y2="439.7" stroke="#4876c6" stroke-width="0.90" opacity="0.75"/>
<line x1="272.3" y1="444.9" x2="276.3" y2="444.9" stroke="#4876c6" stroke-width="0.90" opacity="0.75"/>
<line x1="298.8" y1="384.8" x2="298.8" y2="391.6" stroke="#4876c6" stroke-width="1.00" opacity="0.8"/>
<line x1="296.8" y1="384.8" x2="300.8" y2="384.8" stroke="#4876c6" stroke-width="0.90" opacity="0.75"/>
<line x1="296.8" y1="391.6" x2="300.8" y2="391.6" stroke="#4876c6" stroke-width="0.90" opacity="0.75"/>
<line x1="323.2" y1="373.5" x2="323.2" y2="379.1" stroke="#4876c6" stroke-width="1.00" opacity="0.8"/>
<line x1="321.2" y1="373.5" x2="325.2" y2="373.5" stroke="#4876c6" stroke-width="0.90" opacity="0.75"/>
<line x1="321.2" y1="379.1" x2="325.2" y2="379.1" stroke="#4876c6" stroke-width="0.90" opacity="0.75"/>
<circle cx="205.9" cy="477.1" r="2.39" fill="#4876c6"/>
<circle cx="215.7" cy="473.0" r="2.39" fill="#4876c6"/>
<circle cx="230.3" cy="469.6" r="2.39" fill="#4876c6"/>
<circle cx="240.1" cy="464.9" r="2.39" fill="#4876c6"/>
<circle cx="249.9" cy="458.6" r="2.39" fill="#4876c6"/>
<circle cx="259.7" cy="456.4" r="2.39" fill="#4876c6"/>
<circle cx="264.5" cy="455.2" r="2.39" fill="#4876c6"/>
<circle cx="274.3" cy="442.3" r="2.39" fill="#4876c6"/>
<circle cx="298.8" cy="388.2" r="2.39" fill="#4876c6"/>
<circle cx="323.2" cy="376.3" r="2.39" fill="#4876c6"/>
<path d="M205.9 444.8 L215.7 447.6 L230.3 461.7 L249.9 479.9 L259.7 482.1 L269.4 469.6 L274.3 456.7 L289.0 425.1 L298.8 400.1 L323.2 377.8" fill="none" stroke="#e34c4f" stroke-width="1.30" stroke-linejoin="round" />
<line x1="205.9" y1="441.4" x2="205.9" y2="448.2" stroke="#e34c4f" stroke-width="1.00" opacity="0.8"/>
<line x1="203.9" y1="441.4" x2="207.9" y2="441.4" stroke="#e34c4f" stroke-width="0.90" opacity="0.75"/>
<line x1="203.9" y1="448.2" x2="207.9" y2="448.2" stroke="#e34c4f" stroke-width="0.90" opacity="0.75"/>
<line x1="215.7" y1="444.0" x2="215.7" y2="451.2" stroke="#e34c4f" stroke-width="1.00" opacity="0.8"/>
<line x1="213.7" y1="444.0" x2="217.7" y2="444.0" stroke="#e34c4f" stroke-width="0.90" opacity="0.75"/>
<line x1="213.7" y1="451.2" x2="217.7" y2="451.2" stroke="#e34c4f" stroke-width="0.90" opacity="0.75"/>
<line x1="230.3" y1="457.5" x2="230.3" y2="465.9" stroke="#e34c4f" stroke-width="1.00" opacity="0.8"/>
<line x1="228.3" y1="457.5" x2="232.3" y2="457.5" stroke="#e34c4f" stroke-width="0.90" opacity="0.75"/>
<line x1="228.3" y1="465.9" x2="232.3" y2="465.9" stroke="#e34c4f" stroke-width="0.90" opacity="0.75"/>
<line x1="249.9" y1="475.7" x2="249.9" y2="484.1" stroke="#e34c4f" stroke-width="1.00" opacity="0.8"/>
<line x1="247.9" y1="475.7" x2="251.9" y2="475.7" stroke="#e34c4f" stroke-width="0.90" opacity="0.75"/>
<line x1="247.9" y1="484.1" x2="251.9" y2="484.1" stroke="#e34c4f" stroke-width="0.90" opacity="0.75"/>
<line x1="259.7" y1="478.3" x2="259.7" y2="485.9" stroke="#e34c4f" stroke-width="1.00" opacity="0.8"/>
<line x1="257.7" y1="478.3" x2="261.7" y2="478.3" stroke="#e34c4f" stroke-width="0.90" opacity="0.75"/>
<line x1="257.7" y1="485.9" x2="261.7" y2="485.9" stroke="#e34c4f" stroke-width="0.90" opacity="0.75"/>
<line x1="269.4" y1="465.8" x2="269.4" y2="473.4" stroke="#e34c4f" stroke-width="1.00" opacity="0.8"/>
<line x1="267.4" y1="465.8" x2="271.4" y2="465.8" stroke="#e34c4f" stroke-width="0.90" opacity="0.75"/>
<line x1="267.4" y1="473.4" x2="271.4" y2="473.4" stroke="#e34c4f" stroke-width="0.90" opacity="0.75"/>
<line x1="274.3" y1="453.3" x2="274.3" y2="460.1" stroke="#e34c4f" stroke-width="1.00" opacity="0.8"/>
<line x1="272.3" y1="453.3" x2="276.3" y2="453.3" stroke="#e34c4f" stroke-width="0.90" opacity="0.75"/>
<line x1="272.3" y1="460.1" x2="276.3" y2="460.1" stroke="#e34c4f" stroke-width="0.90" opacity="0.75"/>
<line x1="289.0" y1="421.1" x2="289.0" y2="429.1" stroke="#e34c4f" stroke-width="1.00" opacity="0.8"/>
<line x1="287.0" y1="421.1" x2="291.0" y2="421.1" stroke="#e34c4f" stroke-width="0.90" opacity="0.75"/>
<line x1="287.0" y1="429.1" x2="291.0" y2="429.1" stroke="#e34c4f" stroke-width="0.90" opacity="0.75"/>
<line x1="298.8" y1="396.9" x2="298.8" y2="403.3" stroke="#e34c4f" stroke-width="1.00" opacity="0.8"/>
<line x1="296.8" y1="396.9" x2="300.8" y2="396.9" stroke="#e34c4f" stroke-width="0.90" opacity="0.75"/>
<line x1="296.8" y1="403.3" x2="300.8" y2="403.3" stroke="#e34c4f" stroke-width="0.90" opacity="0.75"/>
<line x1="323.2" y1="375.0" x2="323.2" y2="380.6" stroke="#e34c4f" stroke-width="1.00" opacity="0.8"/>
<line x1="321.2" y1="375.0" x2="325.2" y2="375.0" stroke="#e34c4f" stroke-width="0.90" opacity="0.75"/>
<line x1="321.2" y1="380.6" x2="325.2" y2="380.6" stroke="#e34c4f" stroke-width="0.90" opacity="0.75"/>
<rect x="203.8" y="442.8" width="4.1" height="4.1" fill="#e34c4f" stroke="none" stroke-width="1.00" />
<rect x="213.6" y="445.6" width="4.1" height="4.1" fill="#e34c4f" stroke="none" stroke-width="1.00" />
<rect x="228.3" y="459.7" width="4.1" height="4.1" fill="#e34c4f" stroke="none" stroke-width="1.00" />
<rect x="247.8" y="477.8" width="4.1" height="4.1" fill="#e34c4f" stroke="none" stroke-width="1.00" />
<rect x="257.6" y="480.0" width="4.1" height="4.1" fill="#e34c4f" stroke="none" stroke-width="1.00" />
<rect x="267.4" y="467.5" width="4.1" height="4.1" fill="#e34c4f" stroke="none" stroke-width="1.00" />
<rect x="272.3" y="454.7" width="4.1" height="4.1" fill="#e34c4f" stroke="none" stroke-width="1.00" />
<rect x="286.9" y="423.1" width="4.1" height="4.1" fill="#e34c4f" stroke="none" stroke-width="1.00" />
<rect x="296.7" y="398.0" width="4.1" height="4.1" fill="#e34c4f" stroke="none" stroke-width="1.00" />
<rect x="321.1" y="375.8" width="4.1" height="4.1" fill="#e34c4f" stroke="none" stroke-width="1.00" />
<rect x="204.2" y="366.3" width="120.6" height="126.1" fill="none" stroke="#000" stroke-width="1.00" />
<line x1="204.2" y1="374.4" x2="207.5" y2="374.4" stroke="#000" stroke-width="0.90" />
<text x="201.8" y="377.0" font-size="7.90" fill="#000" text-anchor="end" font-weight="normal" font-style="normal" >0</text>
<line x1="204.2" y1="390.0" x2="206.0" y2="390.0" stroke="#000" stroke-width="0.90" />
<line x1="204.2" y1="405.7" x2="207.5" y2="405.7" stroke="#000" stroke-width="0.90" />
<text x="201.8" y="408.3" font-size="7.90" fill="#000" text-anchor="end" font-weight="normal" font-style="normal" >−10</text>
<line x1="204.2" y1="421.3" x2="206.0" y2="421.3" stroke="#000" stroke-width="0.90" />
<line x1="204.2" y1="437.0" x2="207.5" y2="437.0" stroke="#000" stroke-width="0.90" />
<text x="201.8" y="439.6" font-size="7.90" fill="#000" text-anchor="end" font-weight="normal" font-style="normal" >−20</text>
<line x1="204.2" y1="452.6" x2="206.0" y2="452.6" stroke="#000" stroke-width="0.90" />
<line x1="204.2" y1="468.3" x2="207.5" y2="468.3" stroke="#000" stroke-width="0.90" />
<text x="201.8" y="470.9" font-size="7.90" fill="#000" text-anchor="end" font-weight="normal" font-style="normal" >−30</text>
<line x1="204.2" y1="483.9" x2="206.0" y2="483.9" stroke="#000" stroke-width="0.90" />
<line x1="230.3" y1="492.4" x2="230.3" y2="489.1" stroke="#000" stroke-width="0.90" />
<text x="230.3" y="501.8" font-size="7.90" fill="#000" text-anchor="middle" font-weight="normal" font-style="normal" >60</text>
<line x1="259.7" y1="492.4" x2="259.7" y2="489.1" stroke="#000" stroke-width="0.90" />
<text x="259.7" y="501.8" font-size="7.90" fill="#000" text-anchor="middle" font-weight="normal" font-style="normal" >120</text>
<line x1="289.0" y1="492.4" x2="289.0" y2="489.1" stroke="#000" stroke-width="0.90" />
<text x="289.0" y="501.8" font-size="7.90" fill="#000" text-anchor="middle" font-weight="normal" font-style="normal" >180</text>
<line x1="318.3" y1="492.4" x2="318.3" y2="489.1" stroke="#000" stroke-width="0.90" />
<text x="318.3" y="501.8" font-size="7.90" fill="#000" text-anchor="middle" font-weight="normal" font-style="normal" >240</text>
<text x="264.7" y="516.2" font-size="9.70" fill="#000" text-anchor="middle" font-weight="normal" font-style="normal" >Temperature (K)</text>
<text x="0.0" y="0.0" font-size="9.70" fill="#000" text-anchor="middle" font-weight="normal" font-style="normal" transform="translate(184.8,430) rotate(-90)">MRR (%)</text>
<line x1="217.2" y1="373.5" x2="233.5" y2="373.5" stroke="#4876c6" stroke-width="1.40" />
<circle cx="225.3" cy="373.5" r="2.4" fill="#4876c6"/>
<text x="236.8" y="376.4" font-size="8.00" fill="#4876c6" text-anchor="start" font-weight="normal" font-style="normal" >CrSBr</text>
<line x1="217.2" y1="383.2" x2="233.5" y2="383.2" stroke="#e34c4f" stroke-width="1.40" />
<rect x="223.3" y="381.1" width="4.1" height="4.1" fill="#e34c4f" stroke="none" stroke-width="1.00" />
<text x="236.8" y="386.1" font-size="8.00" fill="#e34c4f" text-anchor="start" font-weight="normal" font-style="normal" >FGT/CrSBr</text>
<text x="246.2" y="435.0" font-size="11.80" fill="#8a8a8a" text-anchor="start" font-weight="normal" font-style="normal" ><tspan font-style="italic">T</tspan><tspan font-style="italic" font-size="7.6" dy="2.4">N</tspan></text>
<text x="372.8" y="167.7" font-size="14.80" fill="#000" text-anchor="start" font-weight="bold" font-style="normal" >i</text>
<path d="M382.3 224.6 L388.0 224.0 L389.0 186.4 L431.6 186.8" fill="none" stroke="#6a2a9c" stroke-width="1.15" stroke-linejoin="round" />
<path d="M431.6 186.8 L425.1 186.4 L424.2 224.0 L382.3 224.6" fill="none" stroke="#6a2a9c" stroke-width="1.15" stroke-linejoin="round" />
<path d="M427.4 223.2 L434.5 222.6 L435.5 187.3 L477.8 187.7" fill="none" stroke="#7231a6" stroke-width="1.15" stroke-linejoin="round" />
<path d="M477.8 187.7 L470.8 187.3 L469.9 222.6 L427.4 223.2" fill="none" stroke="#7231a6" stroke-width="1.15" stroke-linejoin="round" />
<path d="M472.9 222.2 L482.3 221.6 L483.3 188.4 L512.6 188.8" fill="none" stroke="#7a39b2" stroke-width="1.15" stroke-linejoin="round" />
<path d="M512.6 188.8 L503.2 188.4 L502.3 221.6 L472.9 222.2" fill="none" stroke="#7a39b2" stroke-width="1.15" stroke-linejoin="round" />
<path d="M508.9 221.9 L520.9 221.3 L521.9 189.0 L548.5 189.4" fill="none" stroke="#8240bd" stroke-width="1.15" stroke-linejoin="round" />
<path d="M548.5 189.4 L536.2 189.0 L535.2 221.3 L508.9 221.9" fill="none" stroke="#8240bd" stroke-width="1.15" stroke-linejoin="round" />
<path d="M546.0 221.9 L558.2 221.3 L559.2 189.0 L585.7 189.4" fill="none" stroke="#8946c6" stroke-width="1.15" stroke-linejoin="round" />
<path d="M585.7 189.4 L572.9 189.0 L572.0 221.3 L546.0 221.9" fill="none" stroke="#8946c6" stroke-width="1.15" stroke-linejoin="round" />
<path d="M580.8 221.4 L594.3 220.8 L595.3 189.3 L620.5 189.7" fill="none" stroke="#9a62da" stroke-width="1.15" stroke-linejoin="round" />
<path d="M620.5 189.7 L606.9 189.3 L606.0 220.8 L580.8 221.4" fill="none" stroke="#9a62da" stroke-width="1.15" stroke-linejoin="round" />
<path d="M614.3 220.9 L630.2 220.3 L631.2 189.7 L654.0 190.1" fill="none" stroke="#a676e4" stroke-width="1.15" stroke-linejoin="round" />
<path d="M654.0 190.1 L639.0 189.7 L638.0 220.3 L614.3 220.9" fill="none" stroke="#a676e4" stroke-width="1.15" stroke-linejoin="round" />
<path d="M647.8 216.5 L661.6 216.2 L663.7 193.6 L677.6 193.3" fill="none" stroke="#ae84ea" stroke-width="1.50" stroke-linejoin="round" />
<rect x="381.4" y="167.6" width="298.7" height="74.5" fill="none" stroke="#000" stroke-width="1.00" />
<line x1="406.6" y1="242.1" x2="406.6" y2="238.8" stroke="#000" stroke-width="0.90" />
<line x1="431.4" y1="242.1" x2="431.4" y2="238.8" stroke="#000" stroke-width="0.90" />
<line x1="456.3" y1="242.1" x2="456.3" y2="238.8" stroke="#000" stroke-width="0.90" />
<line x1="481.2" y1="242.1" x2="481.2" y2="238.8" stroke="#000" stroke-width="0.90" />
<line x1="506.1" y1="242.1" x2="506.1" y2="238.8" stroke="#000" stroke-width="0.90" />
<line x1="530.9" y1="242.1" x2="530.9" y2="238.8" stroke="#000" stroke-width="0.90" />
<line x1="555.8" y1="242.1" x2="555.8" y2="238.8" stroke="#000" stroke-width="0.90" />
<line x1="580.7" y1="242.1" x2="580.7" y2="238.8" stroke="#000" stroke-width="0.90" />
<line x1="605.5" y1="242.1" x2="605.5" y2="238.8" stroke="#000" stroke-width="0.90" />
<line x1="630.4" y1="242.1" x2="630.4" y2="238.8" stroke="#000" stroke-width="0.90" />
<line x1="655.3" y1="242.1" x2="655.3" y2="238.8" stroke="#000" stroke-width="0.90" />
<line x1="381.4" y1="185.5" x2="384.7" y2="185.5" stroke="#000" stroke-width="0.90" />
<text x="379.0" y="188.2" font-size="7.70" fill="#000" text-anchor="end" font-weight="normal" font-style="normal" >0.4</text>
<line x1="381.4" y1="205.3" x2="384.7" y2="205.3" stroke="#000" stroke-width="0.90" />
<text x="379.0" y="208.0" font-size="7.70" fill="#000" text-anchor="end" font-weight="normal" font-style="normal" >0.0</text>
<line x1="381.4" y1="225.1" x2="384.7" y2="225.1" stroke="#000" stroke-width="0.90" />
<text x="379.0" y="227.8" font-size="7.70" fill="#000" text-anchor="end" font-weight="normal" font-style="normal" >−0.4</text>
<text x="408.8" y="179.0" font-size="8.60" fill="#6a2a9c" text-anchor="middle" font-weight="normal" font-style="normal" >5 K</text>
<text x="403.9" y="234.2" font-size="8.60" fill="#6a2a9c" text-anchor="middle" font-weight="normal" font-style="normal" >0.379 Ω</text>
<text x="452.3" y="179.0" font-size="8.60" fill="#7231a6" text-anchor="middle" font-weight="normal" font-style="normal" >10 K</text>
<text x="449.3" y="234.2" font-size="8.60" fill="#7231a6" text-anchor="middle" font-weight="normal" font-style="normal" >0.364 Ω</text>
<text x="495.2" y="179.0" font-size="8.60" fill="#7a39b2" text-anchor="middle" font-weight="normal" font-style="normal" >50 K</text>
<text x="489.7" y="234.2" font-size="8.60" fill="#7a39b2" text-anchor="middle" font-weight="normal" font-style="normal" >0.338 Ω</text>
<text x="534.4" y="179.0" font-size="8.60" fill="#8240bd" text-anchor="middle" font-weight="normal" font-style="normal" >100 K</text>
<text x="527.4" y="234.2" font-size="8.60" fill="#8240bd" text-anchor="middle" font-weight="normal" font-style="normal" >0.325 Ω</text>
<text x="569.1" y="179.0" font-size="8.60" fill="#8946c6" text-anchor="middle" font-weight="normal" font-style="normal" >120 K</text>
<text x="565.1" y="234.2" font-size="8.60" fill="#8946c6" text-anchor="middle" font-weight="normal" font-style="normal" >0.322 Ω</text>
<text x="603.6" y="179.0" font-size="8.60" fill="#9a62da" text-anchor="middle" font-weight="normal" font-style="normal" >140 K</text>
<text x="599.4" y="234.2" font-size="8.60" fill="#9a62da" text-anchor="middle" font-weight="normal" font-style="normal" >0.32 Ω</text>
<text x="637.4" y="179.0" font-size="8.60" fill="#a676e4" text-anchor="middle" font-weight="normal" font-style="normal" >200 K</text>
<text x="631.2" y="234.2" font-size="8.60" fill="#a676e4" text-anchor="middle" font-weight="normal" font-style="normal" >0.31 Ω</text>
<text x="666.0" y="179.0" font-size="8.60" fill="#ae84ea" text-anchor="middle" font-weight="normal" font-style="normal" >300 K</text>
<text x="663.2" y="234.2" font-size="8.60" fill="#ae84ea" text-anchor="middle" font-weight="normal" font-style="normal" >0.234 Ω</text>
<text x="407.1" y="208.3" font-size="8.60" fill="#6a2a9c" text-anchor="middle" font-weight="normal" font-style="normal" >FGT</text>
<text x="0.0" y="0.0" font-size="9.70" fill="#000" text-anchor="middle" font-weight="normal" font-style="normal" transform="translate(361.2,205.6) rotate(-90)"><tspan font-style="italic">R</tspan><tspan font-style="italic" font-size="7" dy="1.7">xy</tspan><tspan dy="-1.7"> (Ω)</tspan></text>
<text x="372.6" y="254.0" font-size="14.80" fill="#000" text-anchor="start" font-weight="bold" font-style="normal" >j</text>
<path d="M382.3 306.4 L388.2 305.8 L389.2 275.2 L431.6 276.0" fill="none" stroke="#f2a6a6" stroke-width="1.15" stroke-linejoin="round" />
<path d="M431.6 276.0 L424.9 275.2 L424.1 305.8 L382.3 306.4" fill="none" stroke="#f2a6a6" stroke-width="1.15" stroke-linejoin="round" />
<path d="M426.4 307.6 L434.5 307.0 L435.5 276.0 L475.3 276.8" fill="none" stroke="#d44f4f" stroke-width="1.15" stroke-linejoin="round" />
<path d="M475.3 276.8 L468.3 276.0 L467.4 307.0 L426.4 307.6" fill="none" stroke="#d44f4f" stroke-width="1.15" stroke-linejoin="round" />
<path d="M473.4 308.4 L479.5 307.8 L480.5 273.0 L513.8 273.8" fill="none" stroke="#b43434" stroke-width="1.15" stroke-linejoin="round" />
<path d="M513.8 273.8 L507.6 273.0 L506.7 307.8 L473.4 308.4" fill="none" stroke="#b43434" stroke-width="1.15" stroke-linejoin="round" />
<path d="M510.1 310.6 L518.2 310.0 L519.2 269.8 L549.7 270.6" fill="none" stroke="#a42b2b" stroke-width="1.15" stroke-linejoin="round" />
<path d="M549.7 270.6 L540.9 269.8 L539.9 310.0 L510.1 310.6" fill="none" stroke="#a42b2b" stroke-width="1.15" stroke-linejoin="round" />
<path d="M547.3 311.3 L556.9 310.7 L557.9 268.5 L587.0 269.3" fill="none" stroke="#8e2222" stroke-width="1.15" stroke-linejoin="round" />
<path d="M587.0 269.3 L577.4 268.5 L576.4 310.7 L547.3 311.3" fill="none" stroke="#8e2222" stroke-width="1.15" stroke-linejoin="round" />
<path d="M582.0 311.8 L593.1 311.2 L594.1 268.0 L622.5 268.8" fill="none" stroke="#7a1a1a" stroke-width="1.15" stroke-linejoin="round" />
<path d="M622.5 268.8 L611.9 268.0 L611.0 311.2 L582.0 311.8" fill="none" stroke="#7a1a1a" stroke-width="1.15" stroke-linejoin="round" />
<path d="M614.8 311.3 L630.8 310.7 L631.8 268.5 L655.2 269.3" fill="none" stroke="#962424" stroke-width="1.15" stroke-linejoin="round" />
<path d="M655.2 269.3 L639.0 268.5 L638.0 310.7 L614.8 311.3" fill="none" stroke="#962424" stroke-width="1.15" stroke-linejoin="round" />
<path d="M648.5 307.2 L662.1 306.8 L664.2 274.2 L678.1 273.8" fill="none" stroke="#f3b0b0" stroke-width="1.50" stroke-linejoin="round" />
<rect x="381.8" y="254.0" width="298.3" height="74.5" fill="none" stroke="#000" stroke-width="1.25" />
<line x1="406.6" y1="328.5" x2="406.6" y2="325.2" stroke="#000" stroke-width="0.90" />
<line x1="431.4" y1="328.5" x2="431.4" y2="325.2" stroke="#000" stroke-width="0.90" />
<line x1="456.3" y1="328.5" x2="456.3" y2="325.2" stroke="#000" stroke-width="0.90" />
<line x1="481.2" y1="328.5" x2="481.2" y2="325.2" stroke="#000" stroke-width="0.90" />
<line x1="506.1" y1="328.5" x2="506.1" y2="325.2" stroke="#000" stroke-width="0.90" />
<line x1="530.9" y1="328.5" x2="530.9" y2="325.2" stroke="#000" stroke-width="0.90" />
<line x1="555.8" y1="328.5" x2="555.8" y2="325.2" stroke="#000" stroke-width="0.90" />
<line x1="580.7" y1="328.5" x2="580.7" y2="325.2" stroke="#000" stroke-width="0.90" />
<line x1="605.5" y1="328.5" x2="605.5" y2="325.2" stroke="#000" stroke-width="0.90" />
<line x1="630.4" y1="328.5" x2="630.4" y2="325.2" stroke="#000" stroke-width="0.90" />
<line x1="655.3" y1="328.5" x2="655.3" y2="325.2" stroke="#000" stroke-width="0.90" />
<line x1="381.8" y1="277.7" x2="385.1" y2="277.7" stroke="#000" stroke-width="0.90" />
<text x="379.4" y="280.4" font-size="7.70" fill="#000" text-anchor="end" font-weight="normal" font-style="normal" >1.8</text>
<line x1="381.8" y1="305.8" x2="385.1" y2="305.8" stroke="#000" stroke-width="0.90" />
<text x="379.4" y="308.5" font-size="7.70" fill="#000" text-anchor="end" font-weight="normal" font-style="normal" >1.5</text>
<text x="408.8" y="264.0" font-size="8.60" fill="#f2a6a6" text-anchor="middle" font-weight="normal" font-style="normal" >5 K</text>
<text x="406.6" y="321.8" font-size="8.60" fill="#f2a6a6" text-anchor="middle" font-weight="normal" font-style="normal" >0.165 Ω</text>
<text x="453.7" y="264.0" font-size="8.60" fill="#d44f4f" text-anchor="middle" font-weight="normal" font-style="normal" >10 K</text>
<text x="449.3" y="321.8" font-size="8.60" fill="#d44f4f" text-anchor="middle" font-weight="normal" font-style="normal" >0.169 Ω</text>
<text x="496.4" y="264.0" font-size="8.60" fill="#b43434" text-anchor="middle" font-weight="normal" font-style="normal" >50 K</text>
<text x="490.2" y="321.8" font-size="8.60" fill="#b43434" text-anchor="middle" font-weight="normal" font-style="normal" >0.188 Ω</text>
<text x="532.4" y="264.0" font-size="8.60" fill="#a42b2b" text-anchor="middle" font-weight="normal" font-style="normal" >100 K</text>
<text x="527.9" y="321.8" font-size="8.60" fill="#a42b2b" text-anchor="middle" font-weight="normal" font-style="normal" >0.217 Ω</text>
<text x="570.1" y="264.0" font-size="8.60" fill="#8e2222" text-anchor="middle" font-weight="normal" font-style="normal" >120 K</text>
<text x="565.1" y="321.8" font-size="8.60" fill="#8e2222" text-anchor="middle" font-weight="normal" font-style="normal" >0.224 Ω</text>
<text x="605.6" y="264.0" font-size="8.60" fill="#7a1a1a" text-anchor="middle" font-weight="normal" font-style="normal" >140 K</text>
<text x="600.6" y="321.8" font-size="8.60" fill="#7a1a1a" text-anchor="middle" font-weight="normal" font-style="normal" >0.229 Ω</text>
<text x="638.4" y="264.0" font-size="8.60" fill="#962424" text-anchor="middle" font-weight="normal" font-style="normal" >200 K</text>
<text x="634.1" y="321.8" font-size="8.60" fill="#962424" text-anchor="middle" font-weight="normal" font-style="normal" >0.222 Ω</text>
<text x="666.6" y="264.0" font-size="8.60" fill="#f3b0b0" text-anchor="middle" font-weight="normal" font-style="normal" >300 K</text>
<text x="664.8" y="321.8" font-size="8.60" fill="#f3b0b0" text-anchor="middle" font-weight="normal" font-style="normal" >0.165 Ω</text>
<text x="408.3" y="289.6" font-size="8.60" fill="#e25c5c" text-anchor="middle" font-weight="normal" font-style="normal" >CrSBr/</text>
<text x="407.1" y="298.8" font-size="8.60" fill="#e25c5c" text-anchor="middle" font-weight="normal" font-style="normal" >FGT</text>
<text x="0.0" y="0.0" font-size="9.70" fill="#000" text-anchor="middle" font-weight="normal" font-style="normal" transform="translate(363.0,291.4) rotate(-90)"><tspan font-style="italic">R</tspan><tspan font-style="italic" font-size="7" dy="1.7">xy</tspan><tspan dy="-1.7"> (Ω)</tspan></text>
<line x1="381.5" y1="334.3" x2="407.1" y2="334.3" stroke="#000" stroke-width="1.00" />
<line x1="381.5" y1="332.3" x2="381.5" y2="336.3" stroke="#000" stroke-width="1.00" />
<line x1="407.1" y1="332.3" x2="407.1" y2="336.3" stroke="#000" stroke-width="1.00" />
<text x="394.2" y="342.6" font-size="7.90" fill="#000" text-anchor="middle" font-weight="normal" font-style="normal" >1</text>
<text x="531.2" y="343.0" font-size="9.70" fill="#000" text-anchor="middle" font-weight="normal" font-style="normal" >Field (T)</text>
<text x="372.0" y="363.8" font-size="14.80" fill="#000" text-anchor="start" font-weight="bold" font-style="normal" >k</text>
<line x1="438.4" y1="408.3" x2="438.4" y2="492.5" stroke="#666" stroke-width="1.60" stroke-dasharray="6.2 3.95"/>
<path d="M382.9 376.2 L384.9 379.6 L400.9 425.2 L420.8 440.3 L428.8 445.0 L436.8 450.0 L460.8 457.7 L500.7 481.2" fill="none" stroke="#8a52c8" stroke-width="1.30" stroke-linejoin="round" />
<line x1="382.9" y1="371.6" x2="382.9" y2="380.8" stroke="#8a52c8" stroke-width="1.00" opacity="0.8"/>
<line x1="380.9" y1="371.6" x2="384.9" y2="371.6" stroke="#8a52c8" stroke-width="0.90" opacity="0.75"/>
<line x1="380.9" y1="380.8" x2="384.9" y2="380.8" stroke="#8a52c8" stroke-width="0.90" opacity="0.75"/>
<line x1="384.9" y1="375.0" x2="384.9" y2="384.2" stroke="#8a52c8" stroke-width="1.00" opacity="0.8"/>
<line x1="382.9" y1="375.0" x2="386.9" y2="375.0" stroke="#8a52c8" stroke-width="0.90" opacity="0.75"/>
<line x1="382.9" y1="384.2" x2="386.9" y2="384.2" stroke="#8a52c8" stroke-width="0.90" opacity="0.75"/>
<line x1="400.9" y1="421.0" x2="400.9" y2="429.4" stroke="#8a52c8" stroke-width="1.00" opacity="0.8"/>
<line x1="398.9" y1="421.0" x2="402.9" y2="421.0" stroke="#8a52c8" stroke-width="0.90" opacity="0.75"/>
<line x1="398.9" y1="429.4" x2="402.9" y2="429.4" stroke="#8a52c8" stroke-width="0.90" opacity="0.75"/>
<line x1="420.8" y1="436.5" x2="420.8" y2="444.1" stroke="#8a52c8" stroke-width="1.00" opacity="0.8"/>
<line x1="418.8" y1="436.5" x2="422.8" y2="436.5" stroke="#8a52c8" stroke-width="0.90" opacity="0.75"/>
<line x1="418.8" y1="444.1" x2="422.8" y2="444.1" stroke="#8a52c8" stroke-width="0.90" opacity="0.75"/>
<line x1="428.8" y1="442.0" x2="428.8" y2="448.0" stroke="#8a52c8" stroke-width="1.00" opacity="0.8"/>
<line x1="426.8" y1="442.0" x2="430.8" y2="442.0" stroke="#8a52c8" stroke-width="0.90" opacity="0.75"/>
<line x1="426.8" y1="448.0" x2="430.8" y2="448.0" stroke="#8a52c8" stroke-width="0.90" opacity="0.75"/>
<line x1="436.8" y1="446.6" x2="436.8" y2="453.4" stroke="#8a52c8" stroke-width="1.00" opacity="0.8"/>
<line x1="434.8" y1="446.6" x2="438.8" y2="446.6" stroke="#8a52c8" stroke-width="0.90" opacity="0.75"/>
<line x1="434.8" y1="453.4" x2="438.8" y2="453.4" stroke="#8a52c8" stroke-width="0.90" opacity="0.75"/>
<line x1="460.8" y1="455.3" x2="460.8" y2="460.1" stroke="#8a52c8" stroke-width="1.00" opacity="0.8"/>
<line x1="458.8" y1="455.3" x2="462.8" y2="455.3" stroke="#8a52c8" stroke-width="0.90" opacity="0.75"/>
<line x1="458.8" y1="460.1" x2="462.8" y2="460.1" stroke="#8a52c8" stroke-width="0.90" opacity="0.75"/>
<line x1="500.7" y1="479.2" x2="500.7" y2="483.2" stroke="#8a52c8" stroke-width="1.00" opacity="0.8"/>
<line x1="498.7" y1="479.2" x2="502.7" y2="479.2" stroke="#8a52c8" stroke-width="0.90" opacity="0.75"/>
<line x1="498.7" y1="483.2" x2="502.7" y2="483.2" stroke="#8a52c8" stroke-width="0.90" opacity="0.75"/>
<rect x="380.8" y="374.2" width="4.1" height="4.1" fill="#8a52c8" stroke="none" stroke-width="1.00" />
<rect x="382.8" y="377.5" width="4.1" height="4.1" fill="#8a52c8" stroke="none" stroke-width="1.00" />
<rect x="398.8" y="423.1" width="4.1" height="4.1" fill="#8a52c8" stroke="none" stroke-width="1.00" />
<rect x="418.8" y="438.2" width="4.1" height="4.1" fill="#8a52c8" stroke="none" stroke-width="1.00" />
<rect x="426.8" y="442.9" width="4.1" height="4.1" fill="#8a52c8" stroke="none" stroke-width="1.00" />
<rect x="434.8" y="447.9" width="4.1" height="4.1" fill="#8a52c8" stroke="none" stroke-width="1.00" />
<rect x="458.7" y="455.7" width="4.1" height="4.1" fill="#8a52c8" stroke="none" stroke-width="1.00" />
<rect x="498.6" y="479.1" width="4.1" height="4.1" fill="#8a52c8" stroke="none" stroke-width="1.00" />
<path d="M382.9 379.9 L384.9 385.6 L400.9 401.7 L420.8 419.8 L428.8 423.2 L436.8 430.9 L460.8 461.1 L500.7 481.8" fill="none" stroke="#e34c4f" stroke-width="1.30" stroke-linejoin="round" />
<line x1="382.9" y1="375.9" x2="382.9" y2="383.9" stroke="#e34c4f" stroke-width="1.00" opacity="0.8"/>
<line x1="380.9" y1="375.9" x2="384.9" y2="375.9" stroke="#e34c4f" stroke-width="0.90" opacity="0.75"/>
<line x1="380.9" y1="383.9" x2="384.9" y2="383.9" stroke="#e34c4f" stroke-width="0.90" opacity="0.75"/>
<line x1="384.9" y1="381.2" x2="384.9" y2="390.0" stroke="#e34c4f" stroke-width="1.00" opacity="0.8"/>
<line x1="382.9" y1="381.2" x2="386.9" y2="381.2" stroke="#e34c4f" stroke-width="0.90" opacity="0.75"/>
<line x1="382.9" y1="390.0" x2="386.9" y2="390.0" stroke="#e34c4f" stroke-width="0.90" opacity="0.75"/>
<line x1="400.9" y1="397.4" x2="400.9" y2="406.0" stroke="#e34c4f" stroke-width="1.00" opacity="0.8"/>
<line x1="398.9" y1="397.4" x2="402.9" y2="397.4" stroke="#e34c4f" stroke-width="0.90" opacity="0.75"/>
<line x1="398.9" y1="406.0" x2="402.9" y2="406.0" stroke="#e34c4f" stroke-width="0.90" opacity="0.75"/>
<line x1="420.8" y1="415.6" x2="420.8" y2="424.0" stroke="#e34c4f" stroke-width="1.00" opacity="0.8"/>
<line x1="418.8" y1="415.6" x2="422.8" y2="415.6" stroke="#e34c4f" stroke-width="0.90" opacity="0.75"/>
<line x1="418.8" y1="424.0" x2="422.8" y2="424.0" stroke="#e34c4f" stroke-width="0.90" opacity="0.75"/>
<line x1="428.8" y1="419.6" x2="428.8" y2="426.8" stroke="#e34c4f" stroke-width="1.00" opacity="0.8"/>
<line x1="426.8" y1="419.6" x2="430.8" y2="419.6" stroke="#e34c4f" stroke-width="0.90" opacity="0.75"/>
<line x1="426.8" y1="426.8" x2="430.8" y2="426.8" stroke="#e34c4f" stroke-width="0.90" opacity="0.75"/>
<line x1="436.8" y1="427.1" x2="436.8" y2="434.7" stroke="#e34c4f" stroke-width="1.00" opacity="0.8"/>
<line x1="434.8" y1="427.1" x2="438.8" y2="427.1" stroke="#e34c4f" stroke-width="0.90" opacity="0.75"/>
<line x1="434.8" y1="434.7" x2="438.8" y2="434.7" stroke="#e34c4f" stroke-width="0.90" opacity="0.75"/>
<line x1="460.8" y1="458.7" x2="460.8" y2="463.5" stroke="#e34c4f" stroke-width="1.00" opacity="0.8"/>
<line x1="458.8" y1="458.7" x2="462.8" y2="458.7" stroke="#e34c4f" stroke-width="0.90" opacity="0.75"/>
<line x1="458.8" y1="463.5" x2="462.8" y2="463.5" stroke="#e34c4f" stroke-width="0.90" opacity="0.75"/>
<line x1="500.7" y1="479.8" x2="500.7" y2="483.8" stroke="#e34c4f" stroke-width="1.00" opacity="0.8"/>
<line x1="498.7" y1="479.8" x2="502.7" y2="479.8" stroke="#e34c4f" stroke-width="0.90" opacity="0.75"/>
<line x1="498.7" y1="483.8" x2="502.7" y2="483.8" stroke="#e34c4f" stroke-width="0.90" opacity="0.75"/>
<circle cx="382.9" cy="379.9" r="2.30" fill="#e34c4f"/>
<circle cx="384.9" cy="385.6" r="2.30" fill="#e34c4f"/>
<circle cx="400.9" cy="401.7" r="2.30" fill="#e34c4f"/>
<circle cx="420.8" cy="419.8" r="2.30" fill="#e34c4f"/>
<circle cx="428.8" cy="423.2" r="2.30" fill="#e34c4f"/>
<circle cx="436.8" cy="430.9" r="2.30" fill="#e34c4f"/>
<circle cx="460.8" cy="461.1" r="2.30" fill="#e34c4f"/>
<circle cx="500.7" cy="481.8" r="2.30" fill="#e34c4f"/>
<rect x="380.9" y="365.8" width="121.3" height="126.7" fill="none" stroke="#000" stroke-width="1.00" />
<line x1="380.9" y1="484.6" x2="384.2" y2="484.6" stroke="#000" stroke-width="0.90" />
<text x="378.3" y="487.6" font-size="8.60" fill="#000" text-anchor="end" font-weight="normal" font-style="normal" >0.0</text>
<line x1="380.9" y1="469.4" x2="382.7" y2="469.4" stroke="#000" stroke-width="0.90" />
<line x1="380.9" y1="454.2" x2="384.2" y2="454.2" stroke="#000" stroke-width="0.90" />
<text x="378.3" y="457.2" font-size="8.60" fill="#000" text-anchor="end" font-weight="normal" font-style="normal" >0.2</text>
<line x1="380.9" y1="439.0" x2="382.7" y2="439.0" stroke="#000" stroke-width="0.90" />
<line x1="380.9" y1="423.8" x2="384.2" y2="423.8" stroke="#000" stroke-width="0.90" />
<text x="378.3" y="426.8" font-size="8.60" fill="#000" text-anchor="end" font-weight="normal" font-style="normal" >0.4</text>
<line x1="380.9" y1="408.6" x2="382.7" y2="408.6" stroke="#000" stroke-width="0.90" />
<line x1="380.9" y1="393.4" x2="384.2" y2="393.4" stroke="#000" stroke-width="0.90" />
<text x="378.3" y="396.4" font-size="8.60" fill="#000" text-anchor="end" font-weight="normal" font-style="normal" >0.6</text>
<line x1="380.9" y1="378.2" x2="382.7" y2="378.2" stroke="#000" stroke-width="0.90" />
<text x="380.9" y="502.4" font-size="8.50" fill="#000" text-anchor="middle" font-weight="normal" font-style="normal" >0</text>
<line x1="400.9" y1="492.5" x2="400.9" y2="489.2" stroke="#000" stroke-width="0.90" />
<text x="400.9" y="502.4" font-size="8.50" fill="#000" text-anchor="middle" font-weight="normal" font-style="normal" >50</text>
<line x1="420.8" y1="492.5" x2="420.8" y2="489.2" stroke="#000" stroke-width="0.90" />
<text x="420.8" y="502.4" font-size="8.50" fill="#000" text-anchor="middle" font-weight="normal" font-style="normal" >100</text>
<line x1="440.8" y1="492.5" x2="440.8" y2="489.2" stroke="#000" stroke-width="0.90" />
<text x="440.8" y="502.4" font-size="8.50" fill="#000" text-anchor="middle" font-weight="normal" font-style="normal" >150</text>
<line x1="460.8" y1="492.5" x2="460.8" y2="489.2" stroke="#000" stroke-width="0.90" />
<text x="460.8" y="502.4" font-size="8.50" fill="#000" text-anchor="middle" font-weight="normal" font-style="normal" >200</text>
<line x1="480.7" y1="492.5" x2="480.7" y2="489.2" stroke="#000" stroke-width="0.90" />
<text x="480.7" y="502.4" font-size="8.50" fill="#000" text-anchor="middle" font-weight="normal" font-style="normal" >250</text>
<text x="500.7" y="502.4" font-size="8.50" fill="#000" text-anchor="middle" font-weight="normal" font-style="normal" >300</text>
<text x="441.4" y="516.2" font-size="9.70" fill="#000" text-anchor="middle" font-weight="normal" font-style="normal" >Temperature (K)</text>
<text x="0.0" y="0.0" font-size="9.70" fill="#000" text-anchor="middle" font-weight="normal" font-style="normal" transform="translate(361.4,429) rotate(-90)"><tspan font-style="italic">H</tspan><tspan font-style="italic" font-size="6.6" dy="1.6">c</tspan><tspan dy="-1.6"> (T)</tspan></text>
<line x1="409.2" y1="375.5" x2="425.6" y2="375.5" stroke="#8a52c8" stroke-width="1.40" />
<rect x="415.3" y="373.4" width="4.1" height="4.1" fill="#8a52c8" stroke="none" stroke-width="1.00" />
<text x="428.1" y="378.4" font-size="8.00" fill="#8a52c8" text-anchor="start" font-weight="normal" font-style="normal" >FGT</text>
<line x1="409.2" y1="385.5" x2="425.6" y2="385.5" stroke="#e34c4f" stroke-width="1.40" />
<circle cx="417.4" cy="385.5" r="2.4" fill="#e34c4f"/>
<text x="428.1" y="388.4" font-size="8.00" fill="#e34c4f" text-anchor="start" font-weight="normal" font-style="normal" >CrSBr/FGT</text>
<text x="447.0" y="424.4" font-size="12.80" fill="#8a8a8a" text-anchor="start" font-weight="normal" font-style="normal" ><tspan font-style="italic">T</tspan><tspan font-style="italic" font-size="8.2" dy="2.5">N</tspan></text>
<text x="551.6" y="363.8" font-size="14.80" fill="#000" text-anchor="start" font-weight="bold" font-style="normal" >l</text>
<line x1="615.6" y1="407.4" x2="615.6" y2="492.5" stroke="#666" stroke-width="1.60" stroke-dasharray="6.2 3.95"/>
<path d="M560.6 489.8 L562.6 488.1 L578.6 477.1 L598.6 461.3 L606.6 457.3 L614.6 455.0 L638.6 458.3 L678.6 489.8" fill="none" stroke="#e34c4f" stroke-width="1.30" stroke-linejoin="round" />
<line x1="560.6" y1="486.8" x2="560.6" y2="492.8" stroke="#e34c4f" stroke-width="1.00" opacity="0.8"/>
<line x1="558.6" y1="486.8" x2="562.6" y2="486.8" stroke="#e34c4f" stroke-width="0.90" opacity="0.75"/>
<line x1="558.6" y1="492.8" x2="562.6" y2="492.8" stroke="#e34c4f" stroke-width="0.90" opacity="0.75"/>
<line x1="562.6" y1="485.1" x2="562.6" y2="491.1" stroke="#e34c4f" stroke-width="1.00" opacity="0.8"/>
<line x1="560.6" y1="485.1" x2="564.6" y2="485.1" stroke="#e34c4f" stroke-width="0.90" opacity="0.75"/>
<line x1="560.6" y1="491.1" x2="564.6" y2="491.1" stroke="#e34c4f" stroke-width="0.90" opacity="0.75"/>
<line x1="578.6" y1="472.9" x2="578.6" y2="481.3" stroke="#e34c4f" stroke-width="1.00" opacity="0.8"/>
<line x1="576.6" y1="472.9" x2="580.6" y2="472.9" stroke="#e34c4f" stroke-width="0.90" opacity="0.75"/>
<line x1="576.6" y1="481.3" x2="580.6" y2="481.3" stroke="#e34c4f" stroke-width="0.90" opacity="0.75"/>
<line x1="598.6" y1="457.5" x2="598.6" y2="465.1" stroke="#e34c4f" stroke-width="1.00" opacity="0.8"/>
<line x1="596.6" y1="457.5" x2="600.6" y2="457.5" stroke="#e34c4f" stroke-width="0.90" opacity="0.75"/>
<line x1="596.6" y1="465.1" x2="600.6" y2="465.1" stroke="#e34c4f" stroke-width="0.90" opacity="0.75"/>
<line x1="606.6" y1="453.9" x2="606.6" y2="460.7" stroke="#e34c4f" stroke-width="1.00" opacity="0.8"/>
<line x1="604.6" y1="453.9" x2="608.6" y2="453.9" stroke="#e34c4f" stroke-width="0.90" opacity="0.75"/>
<line x1="604.6" y1="460.7" x2="608.6" y2="460.7" stroke="#e34c4f" stroke-width="0.90" opacity="0.75"/>
<line x1="614.6" y1="451.6" x2="614.6" y2="458.4" stroke="#e34c4f" stroke-width="1.00" opacity="0.8"/>
<line x1="612.6" y1="451.6" x2="616.6" y2="451.6" stroke="#e34c4f" stroke-width="0.90" opacity="0.75"/>
<line x1="612.6" y1="458.4" x2="616.6" y2="458.4" stroke="#e34c4f" stroke-width="0.90" opacity="0.75"/>
<line x1="638.6" y1="454.5" x2="638.6" y2="462.1" stroke="#e34c4f" stroke-width="1.00" opacity="0.8"/>
<line x1="636.6" y1="454.5" x2="640.6" y2="454.5" stroke="#e34c4f" stroke-width="0.90" opacity="0.75"/>
<line x1="636.6" y1="462.1" x2="640.6" y2="462.1" stroke="#e34c4f" stroke-width="0.90" opacity="0.75"/>
<line x1="678.6" y1="486.6" x2="678.6" y2="493.0" stroke="#e34c4f" stroke-width="1.00" opacity="0.8"/>
<line x1="676.6" y1="486.6" x2="680.6" y2="486.6" stroke="#e34c4f" stroke-width="0.90" opacity="0.75"/>
<line x1="676.6" y1="493.0" x2="680.6" y2="493.0" stroke="#e34c4f" stroke-width="0.90" opacity="0.75"/>
<rect x="558.6" y="487.8" width="4.1" height="4.1" fill="#e34c4f" stroke="none" stroke-width="1.00" />
<rect x="560.6" y="486.1" width="4.1" height="4.1" fill="#e34c4f" stroke="none" stroke-width="1.00" />
<rect x="576.6" y="475.0" width="4.1" height="4.1" fill="#e34c4f" stroke="none" stroke-width="1.00" />
<rect x="596.6" y="459.3" width="4.1" height="4.1" fill="#e34c4f" stroke="none" stroke-width="1.00" />
<rect x="604.6" y="455.3" width="4.1" height="4.1" fill="#e34c4f" stroke="none" stroke-width="1.00" />
<rect x="612.6" y="452.9" width="4.1" height="4.1" fill="#e34c4f" stroke="none" stroke-width="1.00" />
<rect x="636.6" y="456.3" width="4.1" height="4.1" fill="#e34c4f" stroke="none" stroke-width="1.00" />
<rect x="676.6" y="487.8" width="4.1" height="4.1" fill="#e34c4f" stroke="none" stroke-width="1.00" />
<path d="M560.6 371.8 L562.6 379.5 L578.6 394.6 L598.6 401.3 L606.6 403.0 L614.6 404.7 L638.6 409.7 L678.6 452.3" fill="none" stroke="#8a52c8" stroke-width="1.30" stroke-linejoin="round" />
<line x1="560.6" y1="367.4" x2="560.6" y2="376.2" stroke="#8a52c8" stroke-width="1.00" opacity="0.8"/>
<line x1="558.6" y1="367.4" x2="562.6" y2="367.4" stroke="#8a52c8" stroke-width="0.90" opacity="0.75"/>
<line x1="558.6" y1="376.2" x2="562.6" y2="376.2" stroke="#8a52c8" stroke-width="0.90" opacity="0.75"/>
<line x1="562.6" y1="375.5" x2="562.6" y2="383.5" stroke="#8a52c8" stroke-width="1.00" opacity="0.8"/>
<line x1="560.6" y1="375.5" x2="564.6" y2="375.5" stroke="#8a52c8" stroke-width="0.90" opacity="0.75"/>
<line x1="560.6" y1="383.5" x2="564.6" y2="383.5" stroke="#8a52c8" stroke-width="0.90" opacity="0.75"/>
<line x1="578.6" y1="391.4" x2="578.6" y2="397.8" stroke="#8a52c8" stroke-width="1.00" opacity="0.8"/>
<line x1="576.6" y1="391.4" x2="580.6" y2="391.4" stroke="#8a52c8" stroke-width="0.90" opacity="0.75"/>
<line x1="576.6" y1="397.8" x2="580.6" y2="397.8" stroke="#8a52c8" stroke-width="0.90" opacity="0.75"/>
<line x1="598.6" y1="396.9" x2="598.6" y2="405.7" stroke="#8a52c8" stroke-width="1.00" opacity="0.8"/>
<line x1="596.6" y1="396.9" x2="600.6" y2="396.9" stroke="#8a52c8" stroke-width="0.90" opacity="0.75"/>
<line x1="596.6" y1="405.7" x2="600.6" y2="405.7" stroke="#8a52c8" stroke-width="0.90" opacity="0.75"/>
<line x1="606.6" y1="399.0" x2="606.6" y2="407.0" stroke="#8a52c8" stroke-width="1.00" opacity="0.8"/>
<line x1="604.6" y1="399.0" x2="608.6" y2="399.0" stroke="#8a52c8" stroke-width="0.90" opacity="0.75"/>
<line x1="604.6" y1="407.0" x2="608.6" y2="407.0" stroke="#8a52c8" stroke-width="0.90" opacity="0.75"/>
<line x1="614.6" y1="400.5" x2="614.6" y2="408.9" stroke="#8a52c8" stroke-width="1.00" opacity="0.8"/>
<line x1="612.6" y1="400.5" x2="616.6" y2="400.5" stroke="#8a52c8" stroke-width="0.90" opacity="0.75"/>
<line x1="612.6" y1="408.9" x2="616.6" y2="408.9" stroke="#8a52c8" stroke-width="0.90" opacity="0.75"/>
<line x1="638.6" y1="405.5" x2="638.6" y2="413.9" stroke="#8a52c8" stroke-width="1.00" opacity="0.8"/>
<line x1="636.6" y1="405.5" x2="640.6" y2="405.5" stroke="#8a52c8" stroke-width="0.90" opacity="0.75"/>
<line x1="636.6" y1="413.9" x2="640.6" y2="413.9" stroke="#8a52c8" stroke-width="0.90" opacity="0.75"/>
<line x1="678.6" y1="447.9" x2="678.6" y2="456.7" stroke="#8a52c8" stroke-width="1.00" opacity="0.8"/>
<line x1="676.6" y1="447.9" x2="680.6" y2="447.9" stroke="#8a52c8" stroke-width="0.90" opacity="0.75"/>
<line x1="676.6" y1="456.7" x2="680.6" y2="456.7" stroke="#8a52c8" stroke-width="0.90" opacity="0.75"/>
<circle cx="560.6" cy="371.8" r="2.30" fill="#8a52c8"/>
<circle cx="562.6" cy="379.5" r="2.30" fill="#8a52c8"/>
<circle cx="578.6" cy="394.6" r="2.30" fill="#8a52c8"/>
<circle cx="598.6" cy="401.3" r="2.30" fill="#8a52c8"/>
<circle cx="606.6" cy="403.0" r="2.30" fill="#8a52c8"/>
<circle cx="614.6" cy="404.7" r="2.30" fill="#8a52c8"/>
<circle cx="638.6" cy="409.7" r="2.30" fill="#8a52c8"/>
<circle cx="678.6" cy="452.3" r="2.30" fill="#8a52c8"/>
<rect x="558.6" y="365.8" width="121.4" height="126.7" fill="none" stroke="#000" stroke-width="1.00" />
<text x="556.0" y="495.5" font-size="8.60" fill="#000" text-anchor="end" font-weight="normal" font-style="normal" >0.16</text>
<line x1="558.6" y1="481.5" x2="560.4" y2="481.5" stroke="#000" stroke-width="0.90" />
<line x1="558.6" y1="470.5" x2="561.9" y2="470.5" stroke="#000" stroke-width="0.90" />
<text x="556.0" y="473.5" font-size="8.60" fill="#000" text-anchor="end" font-weight="normal" font-style="normal" >0.20</text>
<line x1="558.6" y1="459.5" x2="560.4" y2="459.5" stroke="#000" stroke-width="0.90" />
<line x1="558.6" y1="448.5" x2="561.9" y2="448.5" stroke="#000" stroke-width="0.90" />
<text x="556.0" y="451.5" font-size="8.60" fill="#000" text-anchor="end" font-weight="normal" font-style="normal" >0.24</text>
<line x1="558.6" y1="437.5" x2="560.4" y2="437.5" stroke="#000" stroke-width="0.90" />
<line x1="558.6" y1="426.5" x2="561.9" y2="426.5" stroke="#000" stroke-width="0.90" />
<text x="556.0" y="429.5" font-size="8.60" fill="#000" text-anchor="end" font-weight="normal" font-style="normal" >0.28</text>
<line x1="558.6" y1="415.5" x2="560.4" y2="415.5" stroke="#000" stroke-width="0.90" />
<line x1="558.6" y1="404.5" x2="561.9" y2="404.5" stroke="#000" stroke-width="0.90" />
<text x="556.0" y="407.5" font-size="8.60" fill="#000" text-anchor="end" font-weight="normal" font-style="normal" >0.32</text>
<line x1="558.6" y1="393.5" x2="560.4" y2="393.5" stroke="#000" stroke-width="0.90" />
<line x1="558.6" y1="382.5" x2="561.9" y2="382.5" stroke="#000" stroke-width="0.90" />
<text x="556.0" y="385.5" font-size="8.60" fill="#000" text-anchor="end" font-weight="normal" font-style="normal" >0.36</text>
<line x1="558.6" y1="371.5" x2="560.4" y2="371.5" stroke="#000" stroke-width="0.90" />
<text x="558.6" y="502.4" font-size="8.50" fill="#000" text-anchor="middle" font-weight="normal" font-style="normal" >0</text>
<line x1="578.6" y1="492.5" x2="578.6" y2="489.2" stroke="#000" stroke-width="0.90" />
<text x="578.6" y="502.4" font-size="8.50" fill="#000" text-anchor="middle" font-weight="normal" font-style="normal" >50</text>
<line x1="598.6" y1="492.5" x2="598.6" y2="489.2" stroke="#000" stroke-width="0.90" />
<text x="598.6" y="502.4" font-size="8.50" fill="#000" text-anchor="middle" font-weight="normal" font-style="normal" >100</text>
<line x1="618.6" y1="492.5" x2="618.6" y2="489.2" stroke="#000" stroke-width="0.90" />
<text x="618.6" y="502.4" font-size="8.50" fill="#000" text-anchor="middle" font-weight="normal" font-style="normal" >150</text>
<line x1="638.6" y1="492.5" x2="638.6" y2="489.2" stroke="#000" stroke-width="0.90" />
<text x="638.6" y="502.4" font-size="8.50" fill="#000" text-anchor="middle" font-weight="normal" font-style="normal" >200</text>
<line x1="658.6" y1="492.5" x2="658.6" y2="489.2" stroke="#000" stroke-width="0.90" />
<text x="658.6" y="502.4" font-size="8.50" fill="#000" text-anchor="middle" font-weight="normal" font-style="normal" >250</text>
<text x="678.6" y="502.4" font-size="8.50" fill="#000" text-anchor="middle" font-weight="normal" font-style="normal" >300</text>
<text x="619.2" y="516.2" font-size="9.70" fill="#000" text-anchor="middle" font-weight="normal" font-style="normal" >Temperature (K)</text>
<text x="0.0" y="0.0" font-size="9.70" fill="#000" text-anchor="middle" font-weight="normal" font-style="normal" transform="translate(534,429) rotate(-90)"><tspan font-style="italic">R</tspan><tspan font-style="italic" font-size="6.6" dy="1.6">xy</tspan><tspan dy="-1.6"> (Ω)</tspan></text>
<line x1="580.4" y1="374.5" x2="597.2" y2="374.5" stroke="#8a52c8" stroke-width="1.40" />
<circle cx="588.8" cy="374.5" r="2.4" fill="#8a52c8"/>
<text x="599.8" y="377.4" font-size="8.00" fill="#8a52c8" text-anchor="start" font-weight="normal" font-style="normal" >FGT</text>
<line x1="580.4" y1="384.6" x2="597.2" y2="384.6" stroke="#e34c4f" stroke-width="1.40" />
<rect x="586.8" y="382.6" width="4.1" height="4.1" fill="#e34c4f" stroke="none" stroke-width="1.00" />
<text x="599.8" y="387.5" font-size="8.00" fill="#e34c4f" text-anchor="start" font-weight="normal" font-style="normal" >CrSBr/FGT</text>
<text x="626.0" y="442.2" font-size="12.80" fill="#8a8a8a" text-anchor="start" font-weight="normal" font-style="normal" ><tspan font-style="italic">T</tspan><tspan font-style="italic" font-size="8.2" dy="2.5">N</tspan></text>
</svg>
</body></html>
